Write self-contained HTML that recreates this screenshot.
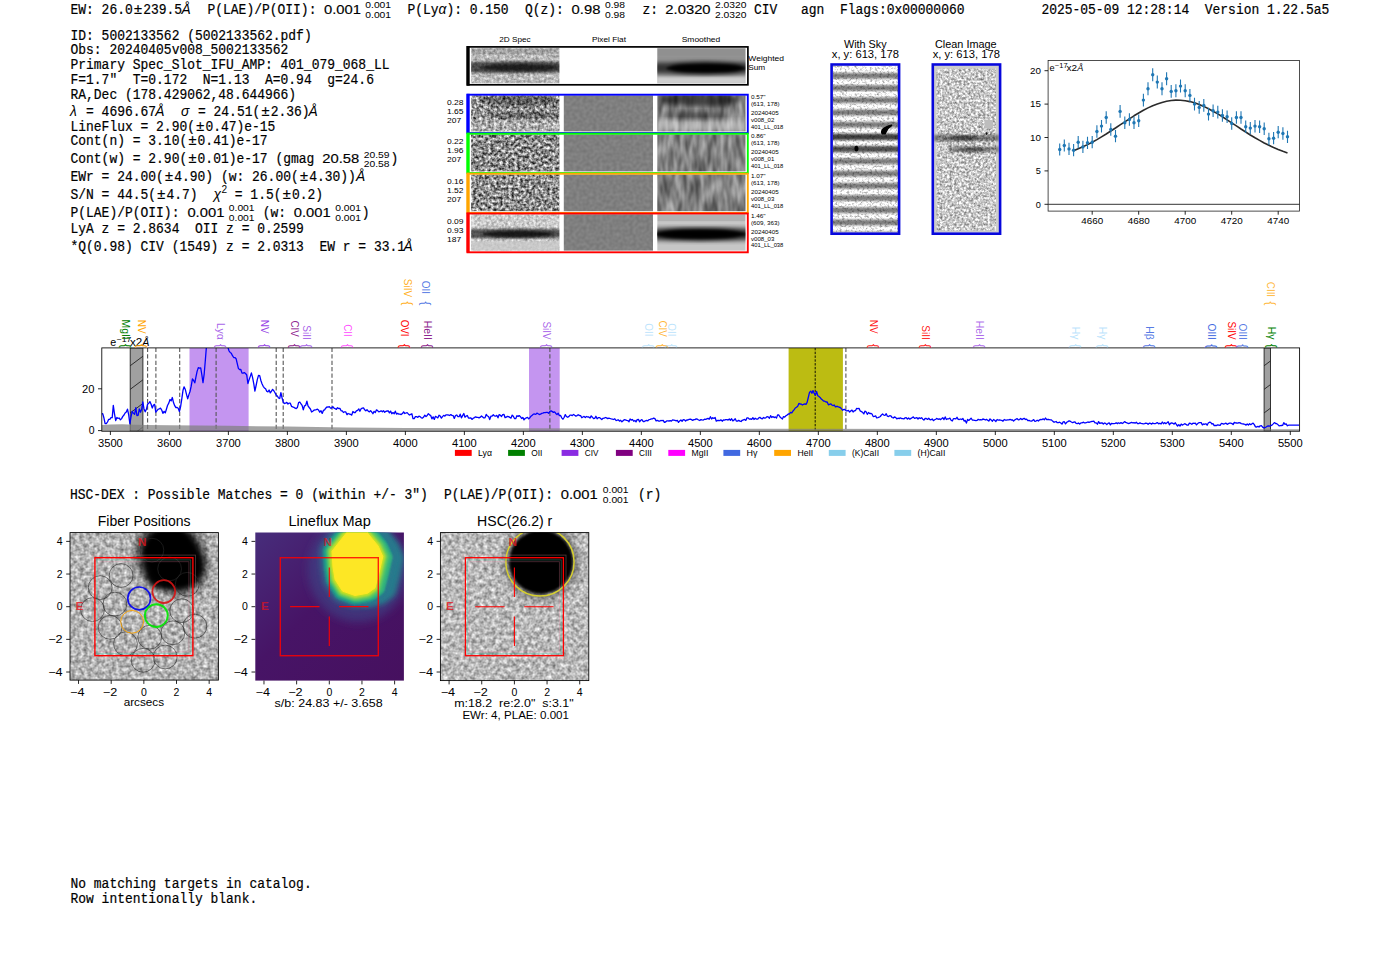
<!DOCTYPE html>
<html lang="en"><head><meta charset="utf-8"><title>ELiXer report 5002133562</title>
<style>
html,body{margin:0;padding:0;background:#fff;}
body{width:1400px;height:953px;overflow:hidden;font-family:"Liberation Sans",sans-serif;}
svg{display:block;position:absolute;left:0;top:0;}
text{font-family:"Liberation Sans",sans-serif;white-space:pre;}
text.m{font-family:"Liberation Mono",monospace;font-size:13.8px;fill:#000;stroke:#000;stroke-width:0.2px;}
</style></head><body>
<svg width="1400" height="953" viewBox="0 0 1400 953">

<g id="header">
<text x="70.50" y="13.90" class="m" textLength="62.24" lengthAdjust="spacingAndGlyphs">EW: 26.0</text>
<text x="137.94" y="13.90" font-size="14.6" text-anchor="middle" stroke="#000" stroke-width="0.2">±</text>
<text x="143.14" y="13.90" class="m" textLength="38.90" lengthAdjust="spacingAndGlyphs">239.5</text>
<text x="181.50" y="13.90" font-size="13.80" font-style="italic">Å</text>
<text x="207.50" y="13.90" class="m" textLength="116.70" lengthAdjust="spacingAndGlyphs">P(LAE)/P(OII): </text>
<text x="361.00" y="13.90" font-size="13.6" text-anchor="end" textLength="36.99" lengthAdjust="spacingAndGlyphs" stroke="#000" stroke-width="0.15">0.001</text>
<text x="365.30" y="8.30" font-size="9.63" text-anchor="start" fill="#000" textLength="25.77" lengthAdjust="spacingAndGlyphs">0.001</text>
<text x="365.30" y="17.80" font-size="9.63" text-anchor="start" fill="#000" textLength="25.77" lengthAdjust="spacingAndGlyphs">0.001</text>
<text x="407.50" y="13.90" class="m" textLength="31.12" lengthAdjust="spacingAndGlyphs">P(Ly</text>
<text x="438.62" y="13.90" font-size="13.80" font-style="italic">α</text>
<text x="446.40" y="13.90" class="m" textLength="62.24" lengthAdjust="spacingAndGlyphs">): 0.150</text>
<text x="525.00" y="13.90" class="m" textLength="46.68" lengthAdjust="spacingAndGlyphs">Q(z): </text>
<text x="600.40" y="13.90" font-size="13.6" text-anchor="end" textLength="28.77" lengthAdjust="spacingAndGlyphs" stroke="#000" stroke-width="0.15">0.98</text>
<text x="605.00" y="8.30" font-size="9.63" text-anchor="start" fill="#000" textLength="20.04" lengthAdjust="spacingAndGlyphs">0.98</text>
<text x="605.00" y="17.80" font-size="9.63" text-anchor="start" fill="#000" textLength="20.04" lengthAdjust="spacingAndGlyphs">0.98</text>
<text x="642.50" y="13.90" class="m" textLength="23.34" lengthAdjust="spacingAndGlyphs">z: </text>
<text x="710.60" y="13.90" font-size="13.6" text-anchor="end" textLength="45.21" lengthAdjust="spacingAndGlyphs" stroke="#000" stroke-width="0.15">2.0320</text>
<text x="715.00" y="8.30" font-size="9.63" text-anchor="start" fill="#000" textLength="31.49" lengthAdjust="spacingAndGlyphs">2.0320</text>
<text x="715.00" y="17.80" font-size="9.63" text-anchor="start" fill="#000" textLength="31.49" lengthAdjust="spacingAndGlyphs">2.0320</text>
<text x="754.00" y="13.90" class="m" textLength="23.34" lengthAdjust="spacingAndGlyphs">CIV</text>
<text x="801.00" y="13.90" class="m" textLength="23.34" lengthAdjust="spacingAndGlyphs">agn</text>
<text x="840.00" y="13.90" class="m" textLength="124.48" lengthAdjust="spacingAndGlyphs">Flags:0x00000060</text>
<text x="1041.40" y="13.90" class="m" textLength="287.86" lengthAdjust="spacingAndGlyphs">2025-05-09 12:28:14  Version 1.22.5a5</text>
</g>
<g id="info" transform="translate(0 -0.6)">
<text x="70.50" y="40.50" class="m" textLength="241.18" lengthAdjust="spacingAndGlyphs">ID: 5002133562 (5002133562.pdf)</text>
<text x="70.50" y="55.00" class="m" textLength="217.84" lengthAdjust="spacingAndGlyphs">Obs: 20240405v008_5002133562</text>
<text x="70.50" y="69.75" class="m" textLength="318.98" lengthAdjust="spacingAndGlyphs">Primary Spec_Slot_IFU_AMP: 401_079_068_LL</text>
<text x="70.50" y="84.50" class="m" textLength="303.42" lengthAdjust="spacingAndGlyphs">F=1.7"  T=0.172  N=1.13  A=0.94  g=24.6</text>
<text x="70.50" y="99.25" class="m" textLength="225.62" lengthAdjust="spacingAndGlyphs">RA,Dec (178.429062,48.644966)</text>
<text x="70.00" y="116.25" font-size="13.80" font-style="italic">λ</text>
<text x="86.06" y="116.25" class="m" textLength="70.02" lengthAdjust="spacingAndGlyphs">= 4696.67</text>
<text x="155.20" y="116.25" font-size="13.80" font-style="italic">Å</text>
<text x="181.00" y="116.25" font-size="13.80" font-style="italic">σ</text>
<text x="198.00" y="116.25" class="m" textLength="62.24" lengthAdjust="spacingAndGlyphs">= 24.51(</text>
<text x="265.44" y="116.25" font-size="14.6" text-anchor="middle" stroke="#000" stroke-width="0.2">±</text>
<text x="270.64" y="116.25" class="m" textLength="38.90" lengthAdjust="spacingAndGlyphs">2.36)</text>
<text x="308.50" y="116.25" font-size="13.80" font-style="italic">Å</text>
<text x="70.50" y="131.25" class="m" textLength="124.48" lengthAdjust="spacingAndGlyphs">LineFlux = 2.90(</text>
<text x="200.18" y="131.25" font-size="14.6" text-anchor="middle" stroke="#000" stroke-width="0.2">±</text>
<text x="205.38" y="131.25" class="m" textLength="70.02" lengthAdjust="spacingAndGlyphs">0.47)e-15</text>
<text x="70.50" y="145.75" class="m" textLength="116.70" lengthAdjust="spacingAndGlyphs">Cont(n) = 3.10(</text>
<text x="192.40" y="145.75" font-size="14.6" text-anchor="middle" stroke="#000" stroke-width="0.2">±</text>
<text x="197.60" y="145.75" class="m" textLength="70.02" lengthAdjust="spacingAndGlyphs">0.41)e-17</text>
<text x="70.50" y="163.75" class="m" textLength="116.70" lengthAdjust="spacingAndGlyphs">Cont(w) = 2.90(</text>
<text x="192.40" y="163.75" font-size="14.6" text-anchor="middle" stroke="#000" stroke-width="0.2">±</text>
<text x="197.60" y="163.75" class="m" textLength="124.48" lengthAdjust="spacingAndGlyphs">0.01)e-17 (gmag </text>
<text x="359.20" y="163.75" font-size="13.6" text-anchor="end" textLength="36.99" lengthAdjust="spacingAndGlyphs" stroke="#000" stroke-width="0.15">20.58</text>
<text x="363.80" y="158.15" font-size="9.63" text-anchor="start" fill="#000" textLength="25.77" lengthAdjust="spacingAndGlyphs">20.59</text>
<text x="363.80" y="167.65" font-size="9.63" text-anchor="start" fill="#000" textLength="25.77" lengthAdjust="spacingAndGlyphs">20.58</text>
<text x="390.60" y="163.75" class="m" textLength="7.78" lengthAdjust="spacingAndGlyphs">)</text>
<text x="70.50" y="182.00" class="m" textLength="93.36" lengthAdjust="spacingAndGlyphs">EWr = 24.00(</text>
<text x="169.06" y="182.00" font-size="14.6" text-anchor="middle" stroke="#000" stroke-width="0.2">±</text>
<text x="174.26" y="182.00" class="m" textLength="124.48" lengthAdjust="spacingAndGlyphs">4.90) (w: 26.00(</text>
<text x="303.94" y="182.00" font-size="14.6" text-anchor="middle" stroke="#000" stroke-width="0.2">±</text>
<text x="309.14" y="182.00" class="m" textLength="46.68" lengthAdjust="spacingAndGlyphs">4.30))</text>
<text x="356.00" y="182.00" font-size="13.80" font-style="italic">Å</text>
<text x="70.50" y="199.25" class="m" textLength="85.58" lengthAdjust="spacingAndGlyphs">S/N = 44.5(</text>
<text x="161.28" y="199.25" font-size="14.6" text-anchor="middle" stroke="#000" stroke-width="0.2">±</text>
<text x="166.48" y="199.25" class="m" textLength="31.12" lengthAdjust="spacingAndGlyphs">4.7)</text>
<text x="213.50" y="199.25" font-size="13.80" font-style="italic">χ</text>
<text x="221.40" y="193.65" font-size="10.06" text-anchor="start" fill="#000">2</text>
<text x="234.80" y="199.25" class="m" textLength="46.68" lengthAdjust="spacingAndGlyphs">= 1.5(</text>
<text x="286.68" y="199.25" font-size="14.6" text-anchor="middle" stroke="#000" stroke-width="0.2">±</text>
<text x="291.88" y="199.25" class="m" textLength="31.12" lengthAdjust="spacingAndGlyphs">0.2)</text>
<text x="70.50" y="217.50" class="m" textLength="116.70" lengthAdjust="spacingAndGlyphs">P(LAE)/P(OII): </text>
<text x="224.40" y="217.50" font-size="13.6" text-anchor="end" textLength="36.99" lengthAdjust="spacingAndGlyphs" stroke="#000" stroke-width="0.15">0.001</text>
<text x="228.80" y="211.90" font-size="9.63" text-anchor="start" fill="#000" textLength="25.77" lengthAdjust="spacingAndGlyphs">0.001</text>
<text x="228.80" y="221.40" font-size="9.63" text-anchor="start" fill="#000" textLength="25.77" lengthAdjust="spacingAndGlyphs">0.001</text>
<text x="262.80" y="217.50" class="m" textLength="31.12" lengthAdjust="spacingAndGlyphs">(w: </text>
<text x="330.80" y="217.50" font-size="13.6" text-anchor="end" textLength="36.99" lengthAdjust="spacingAndGlyphs" stroke="#000" stroke-width="0.15">0.001</text>
<text x="335.20" y="211.90" font-size="9.63" text-anchor="start" fill="#000" textLength="25.77" lengthAdjust="spacingAndGlyphs">0.001</text>
<text x="335.20" y="221.40" font-size="9.63" text-anchor="start" fill="#000" textLength="25.77" lengthAdjust="spacingAndGlyphs">0.001</text>
<text x="361.80" y="217.50" class="m" textLength="7.78" lengthAdjust="spacingAndGlyphs">)</text>
<text x="70.50" y="233.75" class="m" textLength="233.40" lengthAdjust="spacingAndGlyphs">LyA z = 2.8634  OII z = 0.2599</text>
<text x="70.50" y="251.25" class="m" textLength="334.54" lengthAdjust="spacingAndGlyphs">*Q(0.98) CIV (1549) z = 2.0313  EW r = 33.1</text>
<text x="403.50" y="251.25" font-size="13.80" font-style="italic">Å</text>
</g>
<g id="catalog-text">
<text x="70.00" y="499.00" class="m" textLength="357.88" lengthAdjust="spacingAndGlyphs">HSC-DEX : Possible Matches = 0 (within +/- 3")</text>
<text x="444.00" y="499.00" class="m" textLength="116.70" lengthAdjust="spacingAndGlyphs">P(LAE)/P(OII): </text>
<text x="597.80" y="499.00" font-size="13.6" text-anchor="end" textLength="36.99" lengthAdjust="spacingAndGlyphs" stroke="#000" stroke-width="0.15">0.001</text>
<text x="602.80" y="493.40" font-size="9.63" text-anchor="start" fill="#000" textLength="25.77" lengthAdjust="spacingAndGlyphs">0.001</text>
<text x="602.80" y="502.90" font-size="9.63" text-anchor="start" fill="#000" textLength="25.77" lengthAdjust="spacingAndGlyphs">0.001</text>
<text x="638.00" y="499.00" class="m" textLength="23.34" lengthAdjust="spacingAndGlyphs">(r)</text>
<text x="70.50" y="887.90" class="m" textLength="241.18" lengthAdjust="spacingAndGlyphs">No matching targets in catalog.</text>
<text x="70.50" y="902.90" class="m" textLength="186.72" lengthAdjust="spacingAndGlyphs">Row intentionally blank.</text>
</g>
<defs>
<filter id="nzA" x="0" y="0" width="100%" height="100%" color-interpolation-filters="sRGB"><feTurbulence type="fractalNoise" baseFrequency="0.34" numOctaves="2" seed="3" stitchTiles="noStitch"/><feColorMatrix type="matrix" values="1 0 0 0 0 1 0 0 0 0 1 0 0 0 0 0 0 0 0 1"/><feComponentTransfer><feFuncR type="linear" slope="1.45" intercept="-0.155"/><feFuncG type="linear" slope="1.45" intercept="-0.155"/><feFuncB type="linear" slope="1.45" intercept="-0.155"/></feComponentTransfer><feComposite operator="in" in2="SourceGraphic"/></filter>
<filter id="nzB" x="0" y="0" width="100%" height="100%" color-interpolation-filters="sRGB"><feTurbulence type="fractalNoise" baseFrequency="0.34" numOctaves="2" seed="11" stitchTiles="noStitch"/><feColorMatrix type="matrix" values="1 0 0 0 0 1 0 0 0 0 1 0 0 0 0 0 0 0 0 1"/><feComponentTransfer><feFuncR type="linear" slope="1.45" intercept="-0.175"/><feFuncG type="linear" slope="1.45" intercept="-0.175"/><feFuncB type="linear" slope="1.45" intercept="-0.175"/></feComponentTransfer><feComposite operator="in" in2="SourceGraphic"/></filter>
<filter id="nzC" x="0" y="0" width="100%" height="100%" color-interpolation-filters="sRGB"><feTurbulence type="fractalNoise" baseFrequency="0.34" numOctaves="2" seed="23" stitchTiles="noStitch"/><feColorMatrix type="matrix" values="1 0 0 0 0 1 0 0 0 0 1 0 0 0 0 0 0 0 0 1"/><feComponentTransfer><feFuncR type="linear" slope="1.45" intercept="-0.165"/><feFuncG type="linear" slope="1.45" intercept="-0.165"/><feFuncB type="linear" slope="1.45" intercept="-0.165"/></feComponentTransfer><feComposite operator="in" in2="SourceGraphic"/></filter>
<filter id="nzL" x="0" y="0" width="100%" height="100%" color-interpolation-filters="sRGB"><feTurbulence type="fractalNoise" baseFrequency="0.36" numOctaves="2" seed="5" stitchTiles="noStitch"/><feColorMatrix type="matrix" values="1 0 0 0 0 1 0 0 0 0 1 0 0 0 0 0 0 0 0 1"/><feComponentTransfer><feFuncR type="linear" slope="0.6" intercept="0.43"/><feFuncG type="linear" slope="0.6" intercept="0.43"/><feFuncB type="linear" slope="0.6" intercept="0.43"/></feComponentTransfer><feComposite operator="in" in2="SourceGraphic"/></filter>
<filter id="nzL2" x="0" y="0" width="100%" height="100%" color-interpolation-filters="sRGB"><feTurbulence type="fractalNoise" baseFrequency="0.36" numOctaves="2" seed="8" stitchTiles="noStitch"/><feColorMatrix type="matrix" values="1 0 0 0 0 1 0 0 0 0 1 0 0 0 0 0 0 0 0 1"/><feComponentTransfer><feFuncR type="linear" slope="0.55" intercept="0.52"/><feFuncG type="linear" slope="0.55" intercept="0.52"/><feFuncB type="linear" slope="0.55" intercept="0.52"/></feComponentTransfer><feComposite operator="in" in2="SourceGraphic"/></filter>
<filter id="nzS1" x="0" y="0" width="100%" height="100%" color-interpolation-filters="sRGB"><feTurbulence type="fractalNoise" baseFrequency="0.16 0.045" numOctaves="2" seed="4" stitchTiles="noStitch"/><feColorMatrix type="matrix" values="1 0 0 0 0 1 0 0 0 0 1 0 0 0 0 0 0 0 0 1"/><feComponentTransfer><feFuncR type="linear" slope="0.62" intercept="0.2"/><feFuncG type="linear" slope="0.62" intercept="0.2"/><feFuncB type="linear" slope="0.62" intercept="0.2"/></feComponentTransfer><feComposite operator="in" in2="SourceGraphic"/></filter>
<filter id="nzS2" x="0" y="0" width="100%" height="100%" color-interpolation-filters="sRGB"><feTurbulence type="fractalNoise" baseFrequency="0.16 0.045" numOctaves="2" seed="9" stitchTiles="noStitch"/><feColorMatrix type="matrix" values="1 0 0 0 0 1 0 0 0 0 1 0 0 0 0 0 0 0 0 1"/><feComponentTransfer><feFuncR type="linear" slope="0.62" intercept="0.2"/><feFuncG type="linear" slope="0.62" intercept="0.2"/><feFuncB type="linear" slope="0.62" intercept="0.2"/></feComponentTransfer><feComposite operator="in" in2="SourceGraphic"/></filter>
<filter id="nzS3" x="0" y="0" width="100%" height="100%" color-interpolation-filters="sRGB"><feTurbulence type="fractalNoise" baseFrequency="0.16 0.045" numOctaves="2" seed="15" stitchTiles="noStitch"/><feColorMatrix type="matrix" values="1 0 0 0 0 1 0 0 0 0 1 0 0 0 0 0 0 0 0 1"/><feComponentTransfer><feFuncR type="linear" slope="0.62" intercept="0.2"/><feFuncG type="linear" slope="0.62" intercept="0.2"/><feFuncB type="linear" slope="0.62" intercept="0.2"/></feComponentTransfer><feComposite operator="in" in2="SourceGraphic"/></filter>
<filter id="nzF" x="0" y="0" width="100%" height="100%" color-interpolation-filters="sRGB"><feTurbulence type="fractalNoise" baseFrequency="0.3" numOctaves="1" seed="2" stitchTiles="noStitch"/><feColorMatrix type="matrix" values="1 0 0 0 0 1 0 0 0 0 1 0 0 0 0 0 0 0 0 1"/><feComponentTransfer><feFuncR type="linear" slope="0.12" intercept="0.44"/><feFuncG type="linear" slope="0.12" intercept="0.44"/><feFuncB type="linear" slope="0.12" intercept="0.44"/></feComponentTransfer><feComposite operator="in" in2="SourceGraphic"/></filter>
<filter id="nzK" x="0" y="0" width="100%" height="100%" color-interpolation-filters="sRGB"><feTurbulence type="fractalNoise" baseFrequency="0.42" numOctaves="2" seed="31" stitchTiles="noStitch"/><feColorMatrix type="matrix" values="1 0 0 0 0 1 0 0 0 0 1 0 0 0 0 0 0 0 0 1"/><feComponentTransfer><feFuncR type="linear" slope="1.0" intercept="0.285"/><feFuncG type="linear" slope="1.0" intercept="0.285"/><feFuncB type="linear" slope="1.0" intercept="0.285"/></feComponentTransfer><feComposite operator="in" in2="SourceGraphic"/></filter>
<filter id="nzSky" x="0" y="0" width="100%" height="100%" color-interpolation-filters="sRGB"><feTurbulence type="fractalNoise" baseFrequency="0.4 0.5" numOctaves="2" seed="37" stitchTiles="noStitch"/><feColorMatrix type="matrix" values="1 0 0 0 0 1 0 0 0 0 1 0 0 0 0 0 0 0 0 1"/><feComponentTransfer><feFuncR type="linear" slope="1.1" intercept="0.42"/><feFuncG type="linear" slope="1.1" intercept="0.42"/><feFuncB type="linear" slope="1.1" intercept="0.42"/></feComponentTransfer><feComposite operator="in" in2="SourceGraphic"/></filter>
<filter id="nzI1" x="0" y="0" width="100%" height="100%" color-interpolation-filters="sRGB"><feTurbulence type="fractalNoise" baseFrequency="0.25" numOctaves="2" seed="41" stitchTiles="noStitch"/><feColorMatrix type="matrix" values="1 0 0 0 0 1 0 0 0 0 1 0 0 0 0 0 0 0 0 1"/><feComponentTransfer><feFuncR type="linear" slope="0.72" intercept="0.345"/><feFuncG type="linear" slope="0.72" intercept="0.345"/><feFuncB type="linear" slope="0.72" intercept="0.345"/></feComponentTransfer><feComposite operator="in" in2="SourceGraphic"/></filter>
<filter id="nzI2" x="0" y="0" width="100%" height="100%" color-interpolation-filters="sRGB"><feTurbulence type="fractalNoise" baseFrequency="0.25" numOctaves="2" seed="47" stitchTiles="noStitch"/><feColorMatrix type="matrix" values="1 0 0 0 0 1 0 0 0 0 1 0 0 0 0 0 0 0 0 1"/><feComponentTransfer><feFuncR type="linear" slope="0.72" intercept="0.365"/><feFuncG type="linear" slope="0.72" intercept="0.365"/><feFuncB type="linear" slope="0.72" intercept="0.365"/></feComponentTransfer><feComposite operator="in" in2="SourceGraphic"/></filter>
<filter id="blur1" x="-20%" y="-20%" width="140%" height="140%"><feGaussianBlur stdDeviation="1.2"/></filter>
<filter id="blur2" x="-30%" y="-30%" width="160%" height="160%"><feGaussianBlur stdDeviation="2.5"/></filter>
<filter id="blur4" x="-30%" y="-30%" width="160%" height="160%"><feGaussianBlur stdDeviation="4.5"/></filter>
</defs>
<g id="spec2d">
<text x="515.00" y="41.90" font-size="8.08" text-anchor="middle" fill="#000" textLength="31.40" lengthAdjust="spacingAndGlyphs">2D Spec</text>
<text x="609.00" y="41.90" font-size="8.08" text-anchor="middle" fill="#000" textLength="33.89" lengthAdjust="spacingAndGlyphs">Pixel Flat</text>
<text x="701.00" y="41.90" font-size="8.08" text-anchor="middle" fill="#000" textLength="38.57" lengthAdjust="spacingAndGlyphs">Smoothed</text>
<clipPath id="cA0"><rect x="471.2" y="48.2" width="88.2" height="35.1"/></clipPath>
<clipPath id="cC0"><rect x="657.3" y="48.2" width="88.2" height="35.1"/></clipPath>
<rect x="471.2" y="48.2" width="88.2" height="35.1" fill="#ccc" filter="url(#nzL)"/>
<g clip-path="url(#cA0)">
<ellipse cx="515.3" cy="67.3" rx="90.0" ry="6.0" fill="#000" fill-opacity="0.6" filter="url(#blur1)"/>
<ellipse cx="520.0" cy="67.5" rx="40.0" ry="3.4" fill="#000" fill-opacity="0.6" filter="url(#blur1)"/>
<rect x="471.2" y="48.2" width="88.2" height="6" fill="#000" fill-opacity="0.12"/>
</g>
<rect x="657.3" y="48.2" width="88.2" height="35.1" fill="#b4b4b4"/>
<g clip-path="url(#cC0)">
<rect x="652.3" y="44.2" width="98.2" height="16" fill="#000" fill-opacity="0.2" filter="url(#blur2)"/>
<ellipse cx="701.4" cy="68.0" rx="110.0" ry="6.4" fill="#000" fill-opacity="0.72" filter="url(#blur2)"/>
<ellipse cx="706.0" cy="68.2" rx="36.0" ry="5.2" fill="#000" fill-opacity="0.9" filter="url(#blur2)"/>
<ellipse cx="706.0" cy="68.2" rx="40.0" ry="3.4" fill="#000" fill-opacity="0.9" filter="url(#blur1)"/>
<rect x="657.3" y="77" width="88.2" height="7" fill="#fff" fill-opacity="0.35" filter="url(#blur1)"/>
</g>
<rect x="467.4" y="46.9" width="280.5" height="37.9" fill="none" stroke="#000" stroke-width="1.7"/>
<rect x="466.5" y="46.0" width="3.2" height="39.7" fill="#000"/>
<text x="748.30" y="61.00" font-size="8.08" text-anchor="start" fill="#000" textLength="35.74" lengthAdjust="spacingAndGlyphs">Weighted</text>
<text x="748.30" y="70.00" font-size="8.08" text-anchor="start" fill="#000" textLength="16.93" lengthAdjust="spacingAndGlyphs">Sum</text>
<clipPath id="cA1"><rect x="471.2" y="95.4" width="88.2" height="36.0"/></clipPath>
<clipPath id="cC1"><rect x="657.3" y="95.4" width="88.2" height="36.0"/></clipPath>
<rect x="471.2" y="95.4" width="88.2" height="36.0" fill="#aaa" filter="url(#nzA)"/>
<rect x="563.8" y="95.4" width="89.2" height="36.0" fill="#808080" filter="url(#nzF)"/>
<rect x="657.3" y="95.4" width="88.2" height="36.0" fill="#888" filter="url(#nzS1)"/>
<g clip-path="url(#cA1)">
<ellipse cx="520.0" cy="100.4" rx="40.0" ry="5.0" fill="#000" fill-opacity="0.35" filter="url(#blur1)"/>
<ellipse cx="525.0" cy="115.4" rx="36.0" ry="3.5" fill="#000" fill-opacity="0.3" filter="url(#blur1)"/>
<rect x="471.2" y="119.4" width="88.2" height="12" fill="#fff" fill-opacity="0.25"/>
</g>
<g clip-path="url(#cC1)">
<ellipse cx="700.0" cy="99.4" rx="40.0" ry="7.0" fill="#000" fill-opacity="0.6" filter="url(#blur2)"/>
<ellipse cx="695.0" cy="115.4" rx="34.0" ry="4.0" fill="#000" fill-opacity="0.35" filter="url(#blur2)"/>
<rect x="657.3" y="120.4" width="88.2" height="11" fill="#fff" fill-opacity="0.4" filter="url(#blur2)"/>
</g>
<text x="447.00" y="105.30" font-size="7.92" text-anchor="start" fill="#000" textLength="16.48" lengthAdjust="spacingAndGlyphs">0.28</text>
<text x="447.00" y="114.40" font-size="7.92" text-anchor="start" fill="#000" textLength="16.48" lengthAdjust="spacingAndGlyphs">1.65</text>
<text x="447.00" y="123.40" font-size="7.92" text-anchor="start" fill="#000" textLength="14.12" lengthAdjust="spacingAndGlyphs">207</text>
<text x="751.00" y="99.00" font-size="5.83" text-anchor="start" fill="#000" textLength="14.64" lengthAdjust="spacingAndGlyphs">0.57"</text>
<text x="751.00" y="106.20" font-size="5.83" text-anchor="start" fill="#000" textLength="28.52" lengthAdjust="spacingAndGlyphs">(613, 178)</text>
<text x="751.00" y="115.30" font-size="5.83" text-anchor="start" fill="#000" textLength="27.74" lengthAdjust="spacingAndGlyphs">20240405</text>
<text x="751.00" y="121.70" font-size="5.83" text-anchor="start" fill="#000" textLength="23.29" lengthAdjust="spacingAndGlyphs">v008_02</text>
<text x="751.00" y="128.60" font-size="5.83" text-anchor="start" fill="#000" textLength="32.33" lengthAdjust="spacingAndGlyphs">401_LL_018</text>
<clipPath id="cA2"><rect x="471.2" y="134.4" width="88.2" height="37.0"/></clipPath>
<clipPath id="cC2"><rect x="657.3" y="134.4" width="88.2" height="37.0"/></clipPath>
<rect x="471.2" y="134.4" width="88.2" height="37.0" fill="#aaa" filter="url(#nzB)"/>
<rect x="563.8" y="134.4" width="89.2" height="37.0" fill="#808080" filter="url(#nzF)"/>
<rect x="657.3" y="134.4" width="88.2" height="37.0" fill="#888" filter="url(#nzS2)"/>
<text x="447.00" y="144.30" font-size="7.92" text-anchor="start" fill="#000" textLength="16.48" lengthAdjust="spacingAndGlyphs">0.22</text>
<text x="447.00" y="153.40" font-size="7.92" text-anchor="start" fill="#000" textLength="16.48" lengthAdjust="spacingAndGlyphs">1.96</text>
<text x="447.00" y="162.40" font-size="7.92" text-anchor="start" fill="#000" textLength="14.12" lengthAdjust="spacingAndGlyphs">207</text>
<text x="751.00" y="138.00" font-size="5.83" text-anchor="start" fill="#000" textLength="14.64" lengthAdjust="spacingAndGlyphs">0.86"</text>
<text x="751.00" y="145.20" font-size="5.83" text-anchor="start" fill="#000" textLength="28.52" lengthAdjust="spacingAndGlyphs">(613, 178)</text>
<text x="751.00" y="154.30" font-size="5.83" text-anchor="start" fill="#000" textLength="27.74" lengthAdjust="spacingAndGlyphs">20240405</text>
<text x="751.00" y="160.70" font-size="5.83" text-anchor="start" fill="#000" textLength="23.29" lengthAdjust="spacingAndGlyphs">v008_01</text>
<text x="751.00" y="167.60" font-size="5.83" text-anchor="start" fill="#000" textLength="32.33" lengthAdjust="spacingAndGlyphs">401_LL_018</text>
<clipPath id="cA3"><rect x="471.2" y="174.4" width="88.2" height="36.8"/></clipPath>
<clipPath id="cC3"><rect x="657.3" y="174.4" width="88.2" height="36.8"/></clipPath>
<rect x="471.2" y="174.4" width="88.2" height="36.8" fill="#aaa" filter="url(#nzC)"/>
<rect x="563.8" y="174.4" width="89.2" height="36.8" fill="#808080" filter="url(#nzF)"/>
<rect x="657.3" y="174.4" width="88.2" height="36.8" fill="#888" filter="url(#nzS3)"/>
<text x="447.00" y="184.30" font-size="7.92" text-anchor="start" fill="#000" textLength="16.48" lengthAdjust="spacingAndGlyphs">0.16</text>
<text x="447.00" y="193.40" font-size="7.92" text-anchor="start" fill="#000" textLength="16.48" lengthAdjust="spacingAndGlyphs">1.52</text>
<text x="447.00" y="202.40" font-size="7.92" text-anchor="start" fill="#000" textLength="14.12" lengthAdjust="spacingAndGlyphs">207</text>
<text x="751.00" y="178.00" font-size="5.83" text-anchor="start" fill="#000" textLength="14.64" lengthAdjust="spacingAndGlyphs">1.07"</text>
<text x="751.00" y="185.20" font-size="5.83" text-anchor="start" fill="#000" textLength="28.52" lengthAdjust="spacingAndGlyphs">(613, 178)</text>
<text x="751.00" y="194.30" font-size="5.83" text-anchor="start" fill="#000" textLength="27.74" lengthAdjust="spacingAndGlyphs">20240405</text>
<text x="751.00" y="200.70" font-size="5.83" text-anchor="start" fill="#000" textLength="23.29" lengthAdjust="spacingAndGlyphs">v008_03</text>
<text x="751.00" y="207.60" font-size="5.83" text-anchor="start" fill="#000" textLength="32.33" lengthAdjust="spacingAndGlyphs">401_LL_018</text>
<clipPath id="cA4"><rect x="471.2" y="214.2" width="88.2" height="36.4"/></clipPath>
<clipPath id="cC4"><rect x="657.3" y="214.2" width="88.2" height="36.4"/></clipPath>
<rect x="471.2" y="214.2" width="88.2" height="36.4" fill="#aaa" filter="url(#nzL2)"/>
<rect x="563.8" y="214.2" width="89.2" height="36.4" fill="#808080" filter="url(#nzF)"/>
<rect x="657.3" y="214.2" width="88.2" height="36.4" fill="#c6c6c6"/>
<g clip-path="url(#cA4)">
<ellipse cx="515.3" cy="233.6" rx="90.0" ry="5.0" fill="#000" fill-opacity="0.6" filter="url(#blur1)"/>
<ellipse cx="518.0" cy="234.0" rx="36.0" ry="3.2" fill="#000" fill-opacity="0.7" filter="url(#blur1)"/>
<rect x="471.2" y="241.5" width="88.2" height="10" fill="#c8c8c8" fill-opacity="0.75"/>
</g>
<g clip-path="url(#cC4)">
<rect x="657.3" y="214.2" width="88.2" height="7" fill="#000" fill-opacity="0.1"/>
<ellipse cx="701.4" cy="234.2" rx="110.0" ry="6.2" fill="#000" fill-opacity="0.8" filter="url(#blur2)"/>
<ellipse cx="700.0" cy="234.2" rx="40.0" ry="5.0" fill="#000" fill-opacity="0.9" filter="url(#blur2)"/>
<ellipse cx="700.0" cy="234.2" rx="46.0" ry="3.6" fill="#000" fill-opacity="0.95" filter="url(#blur1)"/>
</g>
<text x="447.00" y="224.10" font-size="7.92" text-anchor="start" fill="#000" textLength="16.48" lengthAdjust="spacingAndGlyphs">0.09</text>
<text x="447.00" y="233.20" font-size="7.92" text-anchor="start" fill="#000" textLength="16.48" lengthAdjust="spacingAndGlyphs">0.93</text>
<text x="447.00" y="242.20" font-size="7.92" text-anchor="start" fill="#000" textLength="14.12" lengthAdjust="spacingAndGlyphs">187</text>
<text x="751.00" y="217.80" font-size="5.83" text-anchor="start" fill="#000" textLength="14.64" lengthAdjust="spacingAndGlyphs">1.46"</text>
<text x="751.00" y="225.00" font-size="5.83" text-anchor="start" fill="#000" textLength="28.52" lengthAdjust="spacingAndGlyphs">(609, 363)</text>
<text x="751.00" y="234.10" font-size="5.83" text-anchor="start" fill="#000" textLength="27.74" lengthAdjust="spacingAndGlyphs">20240405</text>
<text x="751.00" y="240.50" font-size="5.83" text-anchor="start" fill="#000" textLength="23.29" lengthAdjust="spacingAndGlyphs">v008_03</text>
<text x="751.00" y="247.40" font-size="5.83" text-anchor="start" fill="#000" textLength="32.33" lengthAdjust="spacingAndGlyphs">401_LL_038</text>
<rect x="467.5" y="94.7" width="280.3" height="38.4" fill="none" stroke="#0000ff" stroke-width="1.9"/>
<rect x="466.5" y="93.8" width="3.2" height="39.6" fill="#0000ff"/>
<rect x="467.5" y="133.7" width="280.3" height="39.4" fill="none" stroke="#00ff00" stroke-width="1.9"/>
<rect x="466.5" y="132.8" width="3.2" height="40.6" fill="#00ff00"/>
<rect x="467.5" y="173.7" width="280.3" height="39.2" fill="none" stroke="#ffa500" stroke-width="1.9"/>
<rect x="466.5" y="172.8" width="3.2" height="40.4" fill="#ffa500"/>
<rect x="467.5" y="213.5" width="280.3" height="38.8" fill="none" stroke="#ff0000" stroke-width="1.9"/>
<rect x="466.5" y="212.6" width="3.2" height="40.0" fill="#ff0000"/>
</g>
<g id="cutouts">
<text x="865.30" y="47.60" font-size="10.49" text-anchor="middle" fill="#000" textLength="42.71" lengthAdjust="spacingAndGlyphs">With Sky</text>
<text x="865.40" y="58.20" font-size="10.49" text-anchor="middle" fill="#000" textLength="67.18" lengthAdjust="spacingAndGlyphs">x, y: 613, 178</text>
<text x="965.80" y="47.60" font-size="10.49" text-anchor="middle" fill="#000" textLength="61.62" lengthAdjust="spacingAndGlyphs">Clean Image</text>
<text x="966.30" y="58.20" font-size="10.49" text-anchor="middle" fill="#000" textLength="67.18" lengthAdjust="spacingAndGlyphs">x, y: 613, 178</text>
<clipPath id="cSky"><rect x="833.0" y="65.6" width="65.0" height="167.0"/></clipPath>
<rect x="833.0" y="65.6" width="65.0" height="167.0" fill="#fdfdfd"/>
<g clip-path="url(#cSky)">
<rect x="829.0" y="73.0" width="73.0" height="5.6" fill="#000" fill-opacity="0.5" filter="url(#blur1)"/>
<rect x="829.0" y="85.2" width="73.0" height="5.6" fill="#000" fill-opacity="0.5" filter="url(#blur1)"/>
<rect x="829.0" y="97.4" width="73.0" height="5.6" fill="#000" fill-opacity="0.5" filter="url(#blur1)"/>
<rect x="829.0" y="109.7" width="73.0" height="5.6" fill="#000" fill-opacity="0.5" filter="url(#blur1)"/>
<rect x="829.0" y="121.9" width="73.0" height="5.6" fill="#000" fill-opacity="0.5" filter="url(#blur1)"/>
<rect x="829.0" y="133.7" width="73.0" height="6.4" fill="#000" fill-opacity="0.74" filter="url(#blur1)"/>
<rect x="829.0" y="146.0" width="73.0" height="6.2" fill="#000" fill-opacity="0.68" filter="url(#blur1)"/>
<rect x="829.0" y="158.5" width="73.0" height="5.6" fill="#000" fill-opacity="0.5" filter="url(#blur1)"/>
<rect x="829.0" y="170.8" width="73.0" height="5.6" fill="#000" fill-opacity="0.5" filter="url(#blur1)"/>
<rect x="829.0" y="183.0" width="73.0" height="5.6" fill="#000" fill-opacity="0.5" filter="url(#blur1)"/>
<rect x="829.0" y="195.2" width="73.0" height="5.6" fill="#000" fill-opacity="0.5" filter="url(#blur1)"/>
<rect x="829.0" y="207.4" width="73.0" height="5.6" fill="#000" fill-opacity="0.5" filter="url(#blur1)"/>
<rect x="829.0" y="219.6" width="73.0" height="5.6" fill="#000" fill-opacity="0.5" filter="url(#blur1)"/>
<rect x="829.0" y="231.9" width="73.0" height="5.6" fill="#000" fill-opacity="0.5" filter="url(#blur1)"/>
<rect x="833.0" y="65.6" width="65.0" height="167.0" fill="#888" filter="url(#nzSky)" style="mix-blend-mode:multiply"/>
<path d="M882.2 133.8 C880.6 130.2 883.6 127.0 891.6 125.2 C887.0 128.0 886.6 130.8 885.2 133.6 Z" fill="#000" stroke="#000" stroke-width="1.6" stroke-linejoin="round"/>
<ellipse cx="856.4" cy="148.6" rx="2.0" ry="2.9" fill="#000"/>
</g>
<rect x="831.6" y="64.5" width="67.5" height="169.2" fill="none" stroke="#0808dc" stroke-width="2.6"/>
<clipPath id="cCln"><rect x="934.0" y="65.6" width="65.0" height="167.0"/></clipPath>
<rect x="934.0" y="65.6" width="65.0" height="167.0" fill="#ccc"/>
<rect x="936.5" y="68.6" width="59.5" height="162.0" fill="#ccc" filter="url(#nzK)"/>
<g clip-path="url(#cCln)">
<rect x="934.0" y="134.8" width="65.0" height="6.2" fill="#000" fill-opacity="0.42" filter="url(#blur1)"/>
<ellipse cx="963" cy="138.0" rx="14" ry="2.6" fill="#000" fill-opacity="0.45" filter="url(#blur1)"/>
<rect x="948.0" y="146.6" width="51.0" height="5.6" fill="#000" fill-opacity="0.34" filter="url(#blur1)"/>
<ellipse cx="972" cy="149.6" rx="14" ry="2.4" fill="#000" fill-opacity="0.4" filter="url(#blur1)"/>
<rect x="984.4" y="120.0" width="8.6" height="8.4" fill="#bdbdbd"/>
<ellipse cx="986.6" cy="133.6" rx="1.0" ry="1.4" fill="#111"/>
</g>
<rect x="932.8" y="64.5" width="67.3" height="169.2" fill="none" stroke="#0808dc" stroke-width="2.6"/>
</g>
<g id="fitplot">
<line x1="1048.1" y1="204.30" x2="1299.6" y2="204.30" stroke="#000" stroke-width="0.8"/>
<polyline points="1073.6,150.7 1078.2,148.8 1082.9,146.8 1087.5,144.6 1092.2,142.2 1096.9,139.6 1101.5,136.9 1106.2,134.0 1110.8,131.0 1115.5,128.0 1120.1,124.9 1124.8,121.8 1129.4,118.8 1134.0,115.8 1138.7,113.0 1143.4,110.3 1148.0,107.9 1152.7,105.7 1157.3,103.9 1162.0,102.4 1166.6,101.2 1171.2,100.5 1175.9,100.1 1180.5,100.2 1185.2,100.7 1189.9,101.6 1194.5,102.8 1199.2,104.5 1203.8,106.4 1208.5,108.7 1213.1,111.2 1217.8,113.9 1222.4,116.8 1227.1,119.8 1231.7,122.8 1236.4,125.9 1241.0,129.0 1245.7,132.0 1250.3,135.0 1255.0,137.8 1259.6,140.4 1264.2,143.0 1268.9,145.3 1273.6,147.5 1278.2,149.5 1282.9,151.3 1287.5,152.9" fill="none" stroke="#2b2b2b" stroke-width="1.6" stroke-linejoin="round"/>
<path d="M1059.7 143.5V155.6M1064.3 139.4V151.6M1069.0 142.8V154.9M1073.6 144.1V156.3M1078.2 136.1V148.3M1082.9 140.8V152.9M1087.5 136.7V149.0M1092.2 136.1V148.3M1096.9 125.3V137.7M1101.5 119.9V132.4M1106.2 111.2V123.7M1110.8 123.3V135.7M1115.5 130.0V142.3M1120.1 105.1V117.7M1124.8 116.6V129.0M1129.4 113.2V125.7M1134.0 116.6V129.0M1138.7 114.6V127.0M1143.4 93.7V106.5M1148.0 82.3V95.2M1152.7 68.2V81.2M1157.3 75.6V88.5M1162.0 82.3V95.2M1166.6 72.2V85.2M1171.2 85.0V97.8M1175.9 84.3V97.2M1180.5 79.6V92.5M1185.2 84.3V97.2M1189.9 89.0V101.8M1194.5 97.8V110.4M1199.2 101.1V113.8M1203.8 99.1V111.8M1208.5 107.8V120.4M1213.1 104.5V117.1M1217.8 105.8V118.4M1222.4 109.2V121.7M1227.1 110.5V123.1M1231.7 117.2V129.7M1236.4 111.2V123.7M1241.0 111.2V123.7M1245.7 120.6V133.0M1250.3 121.9V134.3M1255.0 119.9V132.4M1259.6 120.6V133.0M1264.2 122.6V135.0M1268.9 132.7V145.0M1273.6 132.0V144.3M1278.2 126.0V138.3M1282.9 127.3V139.7M1287.5 130.7V143.0" stroke="#1f77b4" stroke-width="1.1" fill="none"/>
<g fill="#1f77b4"><circle cx="1059.7" cy="149.5" r="1.7"/><circle cx="1064.3" cy="145.5" r="1.7"/><circle cx="1069.0" cy="148.9" r="1.7"/><circle cx="1073.6" cy="150.2" r="1.7"/><circle cx="1078.2" cy="142.2" r="1.7"/><circle cx="1082.9" cy="146.9" r="1.7"/><circle cx="1087.5" cy="142.8" r="1.7"/><circle cx="1092.2" cy="142.2" r="1.7"/><circle cx="1096.9" cy="131.5" r="1.7"/><circle cx="1101.5" cy="126.1" r="1.7"/><circle cx="1106.2" cy="117.5" r="1.7"/><circle cx="1110.8" cy="129.5" r="1.7"/><circle cx="1115.5" cy="136.2" r="1.7"/><circle cx="1120.1" cy="111.4" r="1.7"/><circle cx="1124.8" cy="122.8" r="1.7"/><circle cx="1129.4" cy="119.5" r="1.7"/><circle cx="1134.0" cy="122.8" r="1.7"/><circle cx="1138.7" cy="120.8" r="1.7"/><circle cx="1143.4" cy="100.1" r="1.7"/><circle cx="1148.0" cy="88.7" r="1.7"/><circle cx="1152.7" cy="74.7" r="1.7"/><circle cx="1157.3" cy="82.1" r="1.7"/><circle cx="1162.0" cy="88.7" r="1.7"/><circle cx="1166.6" cy="78.7" r="1.7"/><circle cx="1171.2" cy="91.4" r="1.7"/><circle cx="1175.9" cy="90.7" r="1.7"/><circle cx="1180.5" cy="86.1" r="1.7"/><circle cx="1185.2" cy="90.7" r="1.7"/><circle cx="1189.9" cy="95.4" r="1.7"/><circle cx="1194.5" cy="104.1" r="1.7"/><circle cx="1199.2" cy="107.4" r="1.7"/><circle cx="1203.8" cy="105.4" r="1.7"/><circle cx="1208.5" cy="114.1" r="1.7"/><circle cx="1213.1" cy="110.8" r="1.7"/><circle cx="1217.8" cy="112.1" r="1.7"/><circle cx="1222.4" cy="115.5" r="1.7"/><circle cx="1227.1" cy="116.8" r="1.7"/><circle cx="1231.7" cy="123.5" r="1.7"/><circle cx="1236.4" cy="117.5" r="1.7"/><circle cx="1241.0" cy="117.5" r="1.7"/><circle cx="1245.7" cy="126.8" r="1.7"/><circle cx="1250.3" cy="128.1" r="1.7"/><circle cx="1255.0" cy="126.1" r="1.7"/><circle cx="1259.6" cy="126.8" r="1.7"/><circle cx="1264.2" cy="128.8" r="1.7"/><circle cx="1268.9" cy="138.8" r="1.7"/><circle cx="1273.6" cy="138.2" r="1.7"/><circle cx="1278.2" cy="132.2" r="1.7"/><circle cx="1282.9" cy="133.5" r="1.7"/><circle cx="1287.5" cy="136.8" r="1.7"/></g>
<rect x="1048.1" y="60.5" width="251.5" height="150.6" fill="none" stroke="#222" stroke-width="0.8"/>
<line x1="1044.5" y1="204.30" x2="1048.1" y2="204.30" stroke="#000" stroke-width="0.85"/>
<text x="1040.90" y="207.50" font-size="9.20" text-anchor="end" fill="#000">0</text>
<line x1="1044.5" y1="170.90" x2="1048.1" y2="170.90" stroke="#000" stroke-width="0.85"/>
<text x="1040.90" y="174.10" font-size="9.20" text-anchor="end" fill="#000">5</text>
<line x1="1044.5" y1="137.50" x2="1048.1" y2="137.50" stroke="#000" stroke-width="0.85"/>
<text x="1040.90" y="140.70" font-size="9.20" text-anchor="end" fill="#000" textLength="10.94" lengthAdjust="spacingAndGlyphs">10</text>
<line x1="1044.5" y1="104.10" x2="1048.1" y2="104.10" stroke="#000" stroke-width="0.85"/>
<text x="1040.90" y="107.30" font-size="9.20" text-anchor="end" fill="#000" textLength="10.94" lengthAdjust="spacingAndGlyphs">15</text>
<line x1="1044.5" y1="70.70" x2="1048.1" y2="70.70" stroke="#000" stroke-width="0.85"/>
<text x="1040.90" y="73.90" font-size="9.20" text-anchor="end" fill="#000" textLength="10.94" lengthAdjust="spacingAndGlyphs">20</text>
<line x1="1092.20" y1="211.1" x2="1092.20" y2="214.7" stroke="#000" stroke-width="0.85"/>
<text x="1092.20" y="224.30" font-size="9.20" text-anchor="middle" fill="#000" textLength="21.89" lengthAdjust="spacingAndGlyphs">4660</text>
<line x1="1138.70" y1="211.1" x2="1138.70" y2="214.7" stroke="#000" stroke-width="0.85"/>
<text x="1138.70" y="224.30" font-size="9.20" text-anchor="middle" fill="#000" textLength="21.89" lengthAdjust="spacingAndGlyphs">4680</text>
<line x1="1185.20" y1="211.1" x2="1185.20" y2="214.7" stroke="#000" stroke-width="0.85"/>
<text x="1185.20" y="224.30" font-size="9.20" text-anchor="middle" fill="#000" textLength="21.89" lengthAdjust="spacingAndGlyphs">4700</text>
<line x1="1231.70" y1="211.1" x2="1231.70" y2="214.7" stroke="#000" stroke-width="0.85"/>
<text x="1231.70" y="224.30" font-size="9.20" text-anchor="middle" fill="#000" textLength="21.89" lengthAdjust="spacingAndGlyphs">4720</text>
<line x1="1278.20" y1="211.1" x2="1278.20" y2="214.7" stroke="#000" stroke-width="0.85"/>
<text x="1278.20" y="224.30" font-size="9.20" text-anchor="middle" fill="#000" textLength="21.89" lengthAdjust="spacingAndGlyphs">4740</text>
<text x="1049.40" y="71.30" font-size="9.20" text-anchor="start" fill="#000">e</text>
<text x="1054.90" y="67.60" font-size="6.42" text-anchor="start" fill="#000" textLength="12.66" lengthAdjust="spacingAndGlyphs">−17</text>
<text x="1066.40" y="71.30" font-size="9.20" text-anchor="start" fill="#000" textLength="10.56" lengthAdjust="spacingAndGlyphs">x2</text>
<text x="1077.20" y="71.30" font-size="9.20" text-anchor="start" fill="#000" font-style="italic">Å</text>
</g>
<g id="spectrum">
<clipPath id="cSp"><rect x="101.8" y="347.9" width="1197.8" height="83.3"/></clipPath>
<g clip-path="url(#cSp)">
<rect x="189.5" y="347.9" width="59.1" height="83.3" fill="#8a2be2" fill-opacity="0.5"/>
<rect x="529.0" y="347.9" width="30.7" height="83.3" fill="#8a2be2" fill-opacity="0.5"/>
<rect x="788.6" y="347.9" width="54.3" height="83.3" fill="#bcbc12" fill-opacity="1.0"/>
<rect x="130.2" y="347.9" width="12.7" height="83.3" fill="#a0a0a0"/>
<clipPath id="h130"><rect x="130.2" y="347.9" width="12.7" height="83.3"/></clipPath>
<path d="M129.2 342.9L143.9 331.9M129.2 366.5L143.9 355.5M129.2 390.1L143.9 379.1M129.2 413.7L143.9 402.7M129.2 437.3L143.9 426.3M129.2 460.9L143.9 449.9" stroke="#222" stroke-width="0.9" clip-path="url(#h130)"/>
<rect x="130.2" y="347.9" width="12.7" height="83.3" fill="none" stroke="#222" stroke-width="0.9"/>
<rect x="1264.1" y="347.9" width="6.4" height="83.3" fill="#a0a0a0"/>
<clipPath id="h1264"><rect x="1264.1" y="347.9" width="6.4" height="83.3"/></clipPath>
<path d="M1263.1 342.9L1271.5 336.6M1263.1 366.5L1271.5 360.2M1263.1 390.1L1271.5 383.8M1263.1 413.7L1271.5 407.4M1263.1 437.3L1271.5 431.0M1263.1 460.9L1271.5 454.6" stroke="#222" stroke-width="0.9" clip-path="url(#h1264)"/>
<rect x="1264.1" y="347.9" width="6.4" height="83.3" fill="none" stroke="#222" stroke-width="0.9"/>
<line x1="147.6" y1="347.9" x2="147.6" y2="431.2" stroke="#555" stroke-width="1.1" stroke-dasharray="4.2 2.2"/>
<line x1="155.9" y1="347.9" x2="155.9" y2="431.2" stroke="#555" stroke-width="1.1" stroke-dasharray="4.2 2.2"/>
<line x1="179.7" y1="347.9" x2="179.7" y2="431.2" stroke="#555" stroke-width="1.1" stroke-dasharray="4.2 2.2"/>
<line x1="216.1" y1="347.9" x2="216.1" y2="431.2" stroke="#555" stroke-width="1.1" stroke-dasharray="4.2 2.2"/>
<line x1="276.2" y1="347.9" x2="276.2" y2="431.2" stroke="#555" stroke-width="1.1" stroke-dasharray="4.2 2.2"/>
<line x1="283.2" y1="347.9" x2="283.2" y2="431.2" stroke="#555" stroke-width="1.1" stroke-dasharray="4.2 2.2"/>
<line x1="332.0" y1="347.9" x2="332.0" y2="431.2" stroke="#555" stroke-width="1.1" stroke-dasharray="4.2 2.2"/>
<line x1="549.9" y1="347.9" x2="549.9" y2="431.2" stroke="#555" stroke-width="1.1" stroke-dasharray="4.2 2.2"/>
<line x1="845.9" y1="347.9" x2="845.9" y2="431.2" stroke="#555" stroke-width="1.1" stroke-dasharray="4.2 2.2"/>
<line x1="815.2" y1="347.9" x2="815.2" y2="431.2" stroke="#000" stroke-width="0.9" stroke-dasharray="2.4 1.4"/>
<polyline points="101.6,413.8 102.7,413.6 103.9,417.8 105.1,423.5 106.3,423.7 107.5,422.0 108.6,419.4 109.8,419.4 111.0,417.6 112.2,417.7 113.3,405.4 114.5,413.8 115.7,420.6 116.9,417.5 118.1,418.4 119.2,418.0 120.4,419.8 121.6,418.6 122.8,416.4 124.0,415.0 125.1,413.0 126.3,412.1 127.5,409.2 128.7,414.9 129.9,423.9 131.0,416.9 132.2,411.5 133.4,413.1 134.6,414.3 135.8,407.6 136.9,415.5 138.1,415.3 139.3,408.9 140.5,412.2 141.7,409.1 142.8,401.8 144.0,408.9 145.2,411.8 146.4,409.3 147.6,404.1 148.7,403.4 149.9,401.6 151.1,404.3 152.3,408.0 153.5,405.0 154.6,404.4 155.8,412.2 157.0,410.7 158.2,409.1 159.4,408.8 160.5,408.1 161.7,410.0 162.9,413.3 164.1,411.4 165.3,412.9 166.4,409.2 167.6,405.2 168.8,403.1 170.0,399.5 171.2,400.9 172.3,397.5 173.5,402.6 174.7,405.7 175.9,407.7 177.1,407.5 178.2,408.3 179.4,411.6 180.6,406.7 181.8,398.9 183.0,390.3 184.1,386.8 185.3,389.4 186.5,394.3 187.7,398.8 188.9,394.6 190.0,391.5 191.2,386.2 192.4,379.0 193.6,380.5 194.8,382.8 195.9,377.2 197.1,371.4 198.3,367.6 199.5,368.1 200.7,367.9 201.8,374.5 203.0,382.7 204.2,373.8 205.4,359.5 206.6,344.5 207.7,336.3 208.9,325.1 210.1,313.8 211.3,309.1 212.5,304.5 213.6,300.2 214.8,298.7 216.0,293.1 217.2,294.3 218.4,299.0 219.5,302.9 220.7,306.8 221.9,311.4 223.1,316.5 224.3,325.6 225.4,333.0 226.6,339.2 227.8,347.0 229.0,350.8 230.2,352.5 231.3,353.2 232.5,355.7 233.7,357.5 234.9,357.6 236.1,358.7 237.2,363.4 238.4,368.3 239.6,369.7 240.8,369.5 242.0,373.1 243.1,373.2 244.3,372.6 245.5,373.5 246.7,374.9 247.9,383.5 249.0,380.0 250.2,376.6 251.4,372.9 252.6,377.6 253.8,383.9 254.9,391.1 256.1,385.5 257.3,379.7 258.5,375.3 259.7,375.7 260.8,380.2 262.0,383.8 263.2,386.3 264.4,387.9 265.6,388.8 266.7,391.2 267.9,391.8 269.1,390.0 270.3,392.9 271.5,391.1 272.6,389.4 273.8,390.7 275.0,392.8 276.2,395.2 277.4,396.0 278.5,398.0 279.7,398.5 280.9,392.7 282.1,398.0 283.3,402.3 284.4,403.5 285.6,403.1 286.8,402.4 288.0,404.0 289.2,403.1 290.3,403.2 291.5,406.3 292.7,406.9 293.9,407.3 295.1,408.2 296.2,408.5 297.4,407.4 298.6,402.6 299.8,402.0 301.0,403.8 302.1,405.4 303.3,409.8 304.5,405.8 305.7,405.3 306.9,401.2 308.0,405.9 309.2,407.5 310.4,409.0 311.6,412.0 312.8,411.2 313.9,410.1 315.1,410.0 316.3,409.6 317.5,409.1 318.7,410.3 319.8,412.2 321.0,410.7 322.2,413.4 323.4,410.4 324.6,409.9 325.7,408.2 326.9,407.0 328.1,407.2 329.3,406.7 330.5,408.2 331.6,408.0 332.8,406.6 334.0,408.2 335.2,408.7 336.4,409.4 337.5,407.7 338.7,408.5 339.9,408.3 341.1,410.8 342.3,410.9 343.4,412.5 344.6,411.8 345.8,411.9 347.0,414.7 348.1,413.5 349.3,414.0 350.5,414.3 351.7,415.1 352.9,411.5 354.0,412.5 355.2,412.5 356.4,410.9 357.6,410.4 358.8,408.9 359.9,411.2 361.1,408.8 362.3,408.1 363.5,407.9 364.7,409.8 365.8,410.9 367.0,409.7 368.2,411.2 369.4,411.8 370.6,410.6 371.7,412.0 372.9,413.7 374.1,411.4 375.3,412.6 376.5,409.8 377.6,410.6 378.8,411.8 380.0,411.4 381.2,410.8 382.4,411.8 383.5,410.7 384.7,412.3 385.9,411.3 387.1,411.0 388.3,410.9 389.4,412.9 390.6,411.1 391.8,413.7 393.0,412.6 394.2,413.7 395.3,411.2 396.5,414.1 397.7,413.4 398.9,414.2 400.1,414.2 401.2,414.6 402.4,413.6 403.6,411.9 404.8,413.5 406.0,413.0 407.1,412.6 408.3,413.9 409.5,415.0 410.7,414.4 411.9,413.8 413.0,418.7 414.2,418.6 415.4,416.7 416.6,416.7 417.8,417.3 418.9,416.2 420.1,416.6 421.3,417.8 422.5,418.1 423.7,417.0 424.8,415.2 426.0,416.5 427.2,415.4 428.4,413.7 429.6,414.9 430.7,415.6 431.9,418.8 433.1,416.9 434.3,419.4 435.5,416.3 436.6,417.0 437.8,417.9 439.0,415.2 440.2,416.1 441.4,418.1 442.5,416.6 443.7,415.4 444.9,416.1 446.1,414.8 447.3,414.8 448.4,415.0 449.6,415.5 450.8,414.6 452.0,415.4 453.2,415.7 454.3,418.4 455.5,415.5 456.7,415.0 457.9,416.6 459.1,416.7 460.2,414.2 461.4,417.9 462.6,415.6 463.8,413.5 465.0,417.2 466.1,416.1 467.3,415.5 468.5,418.1 469.7,418.0 470.9,417.8 472.0,419.4 473.2,418.3 474.4,417.6 475.6,416.8 476.8,417.4 477.9,417.3 479.1,417.8 480.3,417.2 481.5,416.0 482.7,416.9 483.8,417.9 485.0,417.9 486.2,414.4 487.4,416.0 488.6,416.5 489.7,419.6 490.9,416.2 492.1,416.1 493.3,414.8 494.5,415.9 495.6,416.2 496.8,415.4 498.0,417.8 499.2,414.6 500.4,415.3 501.5,416.5 502.7,414.6 503.9,414.3 505.1,417.7 506.3,417.2 507.4,416.3 508.6,416.6 509.8,417.4 511.0,418.1 512.2,415.1 513.3,416.2 514.5,418.5 515.7,418.7 516.9,415.7 518.1,416.4 519.2,415.6 520.4,416.7 521.6,418.5 522.8,417.4 524.0,419.9 525.1,418.5 526.3,417.9 527.5,417.4 528.7,418.8 529.9,417.7 531.0,416.2 532.2,415.3 533.4,414.1 534.6,414.0 535.8,414.4 536.9,413.1 538.1,413.8 539.3,414.5 540.5,414.2 541.7,413.4 542.8,413.2 544.0,412.7 545.2,412.7 546.4,412.3 547.6,412.4 548.7,413.3 549.9,411.4 551.1,410.8 552.3,411.6 553.5,412.4 554.6,411.8 555.8,413.4 557.0,414.5 558.2,413.3 559.4,415.7 560.5,415.4 561.7,417.8 562.9,419.2 564.1,417.5 565.3,414.6 566.4,416.5 567.6,417.3 568.8,416.6 570.0,415.1 571.2,415.1 572.3,415.6 573.5,414.4 574.7,415.3 575.9,416.1 577.1,415.6 578.2,414.7 579.4,415.5 580.6,415.6 581.8,417.8 582.9,417.0 584.1,416.4 585.3,417.5 586.5,416.5 587.7,417.0 588.8,416.9 590.0,418.1 591.2,415.9 592.4,417.2 593.6,418.6 594.7,418.4 595.9,416.2 597.1,418.8 598.3,417.7 599.5,417.6 600.6,418.5 601.8,419.5 603.0,418.3 604.2,418.2 605.4,417.5 606.5,417.9 607.7,418.6 608.9,418.1 610.1,418.5 611.3,418.9 612.4,419.1 613.6,419.5 614.8,418.8 616.0,420.5 617.2,420.2 618.3,419.8 619.5,421.1 620.7,420.3 621.9,421.8 623.1,420.7 624.2,419.7 625.4,419.8 626.6,420.4 627.8,420.6 629.0,421.7 630.1,419.0 631.3,420.1 632.5,419.5 633.7,421.2 634.9,420.5 636.0,421.9 637.2,419.6 638.4,419.4 639.6,421.8 640.8,420.2 641.9,419.6 643.1,421.5 644.3,421.5 645.5,420.8 646.7,420.3 647.8,420.9 649.0,419.6 650.2,419.3 651.4,418.9 652.6,418.8 653.7,418.1 654.9,418.6 656.1,420.9 657.3,420.3 658.5,421.0 659.6,421.2 660.8,420.5 662.0,420.6 663.2,420.3 664.4,422.3 665.5,422.0 666.7,420.9 667.9,420.9 669.1,421.0 670.3,420.7 671.4,421.2 672.6,419.8 673.8,420.1 675.0,420.4 676.2,420.8 677.3,420.3 678.5,422.4 679.7,420.9 680.9,420.0 682.1,421.3 683.2,419.7 684.4,419.8 685.6,421.0 686.8,420.0 688.0,420.0 689.1,419.3 690.3,419.1 691.5,419.7 692.7,420.3 693.9,419.7 695.0,419.6 696.2,418.8 697.4,419.2 698.6,420.0 699.8,420.5 700.9,419.6 702.1,419.9 703.3,420.1 704.5,419.2 705.7,419.4 706.8,418.9 708.0,418.4 709.2,419.2 710.4,416.7 711.6,419.0 712.7,417.7 713.9,418.4 715.1,417.5 716.3,421.2 717.5,420.5 718.6,420.3 719.8,420.6 721.0,419.8 722.2,421.2 723.4,420.0 724.5,420.2 725.7,419.7 726.9,419.7 728.1,420.0 729.3,419.0 730.4,420.4 731.6,418.7 732.8,420.9 734.0,420.1 735.2,418.7 736.3,421.0 737.5,421.1 738.7,420.4 739.9,421.1 741.1,421.5 742.2,420.3 743.4,419.8 744.6,419.4 745.8,420.4 747.0,417.9 748.1,417.8 749.3,419.2 750.5,418.9 751.7,419.4 752.9,417.7 754.0,419.5 755.2,418.2 756.4,419.1 757.6,419.2 758.8,417.9 759.9,417.3 761.1,418.4 762.3,418.9 763.5,417.5 764.7,418.1 765.8,417.8 767.0,416.6 768.2,416.9 769.4,418.2 770.6,415.7 771.7,417.5 772.9,416.6 774.1,417.6 775.3,416.9 776.5,418.1 777.6,414.9 778.8,415.0 780.0,417.0 781.2,418.1 782.4,419.0 783.5,416.6 784.7,417.1 785.9,415.8 787.1,415.1 788.3,414.0 789.4,414.0 790.6,412.3 791.8,412.9 793.0,411.0 794.2,409.6 795.3,408.0 796.5,407.3 797.7,406.2 798.9,403.4 800.1,404.0 801.2,404.1 802.4,405.0 803.6,404.3 804.8,403.9 806.0,404.3 807.1,402.4 808.3,397.5 809.5,392.4 810.7,391.1 811.9,393.3 813.0,390.6 814.2,393.4 815.4,395.1 816.6,391.5 817.8,395.8 818.9,396.4 820.1,397.4 821.3,399.1 822.5,400.0 823.6,401.1 824.8,401.2 826.0,402.0 827.2,401.9 828.4,404.8 829.5,404.3 830.7,403.8 831.9,405.0 833.1,405.6 834.3,405.0 835.4,406.9 836.6,406.4 837.8,406.5 839.0,407.2 840.2,407.5 841.3,408.5 842.5,410.2 843.7,409.5 844.9,409.5 846.1,410.8 847.2,410.8 848.4,410.4 849.6,412.0 850.8,410.9 852.0,410.1 853.1,412.0 854.3,410.8 855.5,410.5 856.7,408.4 857.9,408.6 859.0,408.3 860.2,410.9 861.4,411.6 862.6,412.3 863.8,413.9 864.9,411.2 866.1,411.8 867.3,414.3 868.5,412.5 869.7,413.5 870.8,413.3 872.0,414.0 873.2,416.6 874.4,416.4 875.6,415.9 876.7,417.8 877.9,417.6 879.1,417.2 880.3,416.5 881.5,414.9 882.6,413.9 883.8,415.1 885.0,415.3 886.2,413.7 887.4,416.2 888.5,416.5 889.7,415.7 890.9,415.9 892.1,417.5 893.3,418.0 894.4,417.0 895.6,417.3 896.8,418.9 898.0,418.2 899.2,418.6 900.3,417.9 901.5,418.5 902.7,418.6 903.9,418.9 905.1,417.8 906.2,417.6 907.4,419.1 908.6,418.0 909.8,419.2 911.0,418.4 912.1,417.7 913.3,416.9 914.5,418.4 915.7,418.0 916.9,417.7 918.0,419.0 919.2,417.7 920.4,418.5 921.6,417.7 922.8,419.2 923.9,420.1 925.1,418.5 926.3,418.5 927.5,419.4 928.7,418.3 929.8,419.5 931.0,419.8 932.2,418.9 933.4,420.6 934.6,419.8 935.7,419.2 936.9,418.4 938.1,419.3 939.3,418.8 940.5,419.6 941.6,418.8 942.8,417.6 944.0,419.6 945.2,416.9 946.4,419.5 947.5,418.9 948.7,418.8 949.9,418.1 951.1,420.2 952.3,421.0 953.4,418.7 954.6,418.7 955.8,418.9 957.0,417.3 958.2,419.4 959.3,419.5 960.5,419.0 961.7,419.5 962.9,418.5 964.1,421.1 965.2,420.4 966.4,423.1 967.6,419.4 968.8,420.4 970.0,419.3 971.1,418.2 972.3,420.0 973.5,420.2 974.7,420.4 975.9,420.6 977.0,420.4 978.2,419.3 979.4,419.8 980.6,419.7 981.8,419.9 982.9,419.0 984.1,419.3 985.3,420.0 986.5,419.4 987.7,420.2 988.8,421.1 990.0,418.9 991.2,419.9 992.4,421.2 993.6,419.5 994.7,420.2 995.9,421.5 997.1,419.5 998.3,420.2 999.5,419.8 1000.6,420.2 1001.8,420.4 1003.0,421.2 1004.2,419.5 1005.4,420.1 1006.5,420.2 1007.7,419.8 1008.9,419.9 1010.1,419.4 1011.3,420.0 1012.4,419.8 1013.6,421.1 1014.8,419.9 1016.0,419.2 1017.2,418.7 1018.3,419.8 1019.5,419.6 1020.7,418.5 1021.9,419.6 1023.1,418.9 1024.2,418.3 1025.4,419.5 1026.6,419.1 1027.8,420.6 1029.0,420.4 1030.1,420.9 1031.3,421.2 1032.5,420.6 1033.7,419.6 1034.9,421.3 1036.0,421.1 1037.2,420.2 1038.4,421.0 1039.6,419.8 1040.8,419.5 1041.9,419.7 1043.1,418.8 1044.3,419.8 1045.5,418.0 1046.7,419.7 1047.8,419.4 1049.0,419.5 1050.2,419.9 1051.4,419.9 1052.6,421.1 1053.7,422.1 1054.9,422.0 1056.1,421.5 1057.3,422.7 1058.4,422.6 1059.6,422.2 1060.8,423.0 1062.0,424.1 1063.2,421.9 1064.3,421.7 1065.5,423.9 1066.7,422.3 1067.9,421.6 1069.1,420.8 1070.2,421.2 1071.4,422.0 1072.6,422.7 1073.8,422.2 1075.0,421.9 1076.1,423.4 1077.3,423.6 1078.5,423.0 1079.7,424.1 1080.9,422.9 1082.0,422.9 1083.2,422.2 1084.4,422.8 1085.6,422.8 1086.8,422.4 1087.9,422.0 1089.1,422.3 1090.3,421.9 1091.5,421.5 1092.7,421.4 1093.8,421.2 1095.0,422.9 1096.2,422.8 1097.4,424.2 1098.6,421.6 1099.7,423.3 1100.9,423.0 1102.1,422.8 1103.3,424.1 1104.5,423.0 1105.6,423.4 1106.8,424.6 1108.0,423.4 1109.2,422.9 1110.4,424.9 1111.5,423.3 1112.7,423.7 1113.9,423.6 1115.1,423.4 1116.3,422.8 1117.4,423.6 1118.6,422.8 1119.8,423.5 1121.0,422.6 1122.2,423.5 1123.3,422.9 1124.5,421.6 1125.7,422.4 1126.9,422.8 1128.1,423.5 1129.2,423.3 1130.4,422.8 1131.6,422.4 1132.8,422.8 1134.0,422.7 1135.1,423.2 1136.3,422.3 1137.5,423.5 1138.7,423.6 1139.9,422.8 1141.0,423.4 1142.2,423.6 1143.4,423.9 1144.6,423.7 1145.8,423.1 1146.9,423.3 1148.1,424.3 1149.3,423.2 1150.5,423.4 1151.7,424.1 1152.8,423.0 1154.0,423.7 1155.2,423.7 1156.4,423.0 1157.6,422.7 1158.7,423.9 1159.9,423.2 1161.1,424.0 1162.3,422.0 1163.5,423.7 1164.6,422.6 1165.8,423.7 1167.0,422.8 1168.2,421.8 1169.4,424.8 1170.5,423.4 1171.7,422.8 1172.9,423.3 1174.1,424.1 1175.3,422.8 1176.4,424.5 1177.6,426.0 1178.8,424.6 1180.0,426.1 1181.2,424.1 1182.3,425.1 1183.5,424.5 1184.7,423.7 1185.9,424.3 1187.1,425.1 1188.2,425.2 1189.4,423.2 1190.6,423.4 1191.8,424.3 1193.0,423.2 1194.1,423.3 1195.3,423.1 1196.5,424.9 1197.7,423.6 1198.9,422.7 1200.0,422.7 1201.2,422.6 1202.4,424.9 1203.6,423.9 1204.8,424.3 1205.9,423.7 1207.1,425.2 1208.3,423.0 1209.5,422.2 1210.7,422.4 1211.8,424.0 1213.0,423.7 1214.2,425.7 1215.4,425.3 1216.6,425.5 1217.7,424.8 1218.9,425.1 1220.1,425.4 1221.3,423.5 1222.5,423.7 1223.6,424.2 1224.8,423.7 1226.0,423.1 1227.2,424.3 1228.4,423.7 1229.5,423.2 1230.7,423.2 1231.9,423.6 1233.1,424.6 1234.3,422.4 1235.4,422.9 1236.6,423.0 1237.8,423.1 1239.0,422.6 1240.2,422.9 1241.3,423.6 1242.5,423.8 1243.7,424.0 1244.9,424.4 1246.1,425.1 1247.2,423.9 1248.4,425.0 1249.6,423.7 1250.8,424.7 1252.0,423.8 1253.1,423.1 1254.3,424.6 1255.5,426.9 1256.7,427.0 1257.9,426.4 1259.0,427.0 1260.2,425.8 1261.4,425.6 1262.6,427.1 1263.8,427.9 1264.9,427.7 1266.1,427.0 1267.3,426.2 1268.5,425.9 1269.7,426.2 1270.8,425.7 1272.0,425.1 1273.2,423.9 1274.4,422.6 1275.6,423.5 1276.7,423.7 1277.9,424.6 1279.1,425.9 1280.3,425.6 1281.5,425.5 1282.6,425.4 1283.8,422.7 1285.0,424.3 1286.2,423.8 1287.4,425.8 1288.5,425.2 1289.7,425.2 1290.9,425.2 1292.1,425.2 1293.2,425.2 1294.4,425.2 1295.6,425.2 1296.8,425.2 1298.0,425.2 1299.1,425.2" fill="none" stroke="#0000ff" stroke-width="1.3" stroke-linejoin="round"/>
<path d="M101.6 430.6L101.6 425.0L110.4 424.5L122.2 424.3L134.0 424.7L145.8 425.0L169.4 425.2L198.9 425.6L228.4 425.8L287.4 426.6L346.4 427.5L405.4 427.9L523.4 428.3L700.3 428.7L995.3 429.0L1299.7 429.2L1299.7 430.6Z" fill="#808080" fill-opacity="0.72"/>
<rect x="101.8" y="430.4" width="1197.8" height="1.6" fill="#808080" fill-opacity="0.55"/>
</g>
<rect x="101.8" y="347.9" width="1197.8" height="83.3" fill="none" stroke="#000" stroke-width="0.85"/>
<line x1="110.40" y1="431.2" x2="110.40" y2="435.0" stroke="#000" stroke-width="0.85"/>
<text x="110.40" y="446.50" font-size="10.43" text-anchor="middle" fill="#000" textLength="24.81" lengthAdjust="spacingAndGlyphs">3500</text>
<line x1="169.40" y1="431.2" x2="169.40" y2="435.0" stroke="#000" stroke-width="0.85"/>
<text x="169.40" y="446.50" font-size="10.43" text-anchor="middle" fill="#000" textLength="24.81" lengthAdjust="spacingAndGlyphs">3600</text>
<line x1="228.39" y1="431.2" x2="228.39" y2="435.0" stroke="#000" stroke-width="0.85"/>
<text x="228.39" y="446.50" font-size="10.43" text-anchor="middle" fill="#000" textLength="24.81" lengthAdjust="spacingAndGlyphs">3700</text>
<line x1="287.38" y1="431.2" x2="287.38" y2="435.0" stroke="#000" stroke-width="0.85"/>
<text x="287.38" y="446.50" font-size="10.43" text-anchor="middle" fill="#000" textLength="24.81" lengthAdjust="spacingAndGlyphs">3800</text>
<line x1="346.38" y1="431.2" x2="346.38" y2="435.0" stroke="#000" stroke-width="0.85"/>
<text x="346.38" y="446.50" font-size="10.43" text-anchor="middle" fill="#000" textLength="24.81" lengthAdjust="spacingAndGlyphs">3900</text>
<line x1="405.38" y1="431.2" x2="405.38" y2="435.0" stroke="#000" stroke-width="0.85"/>
<text x="405.38" y="446.50" font-size="10.43" text-anchor="middle" fill="#000" textLength="24.81" lengthAdjust="spacingAndGlyphs">4000</text>
<line x1="464.37" y1="431.2" x2="464.37" y2="435.0" stroke="#000" stroke-width="0.85"/>
<text x="464.37" y="446.50" font-size="10.43" text-anchor="middle" fill="#000" textLength="24.81" lengthAdjust="spacingAndGlyphs">4100</text>
<line x1="523.37" y1="431.2" x2="523.37" y2="435.0" stroke="#000" stroke-width="0.85"/>
<text x="523.37" y="446.50" font-size="10.43" text-anchor="middle" fill="#000" textLength="24.81" lengthAdjust="spacingAndGlyphs">4200</text>
<line x1="582.36" y1="431.2" x2="582.36" y2="435.0" stroke="#000" stroke-width="0.85"/>
<text x="582.36" y="446.50" font-size="10.43" text-anchor="middle" fill="#000" textLength="24.81" lengthAdjust="spacingAndGlyphs">4300</text>
<line x1="641.35" y1="431.2" x2="641.35" y2="435.0" stroke="#000" stroke-width="0.85"/>
<text x="641.35" y="446.50" font-size="10.43" text-anchor="middle" fill="#000" textLength="24.81" lengthAdjust="spacingAndGlyphs">4400</text>
<line x1="700.35" y1="431.2" x2="700.35" y2="435.0" stroke="#000" stroke-width="0.85"/>
<text x="700.35" y="446.50" font-size="10.43" text-anchor="middle" fill="#000" textLength="24.81" lengthAdjust="spacingAndGlyphs">4500</text>
<line x1="759.34" y1="431.2" x2="759.34" y2="435.0" stroke="#000" stroke-width="0.85"/>
<text x="759.34" y="446.50" font-size="10.43" text-anchor="middle" fill="#000" textLength="24.81" lengthAdjust="spacingAndGlyphs">4600</text>
<line x1="818.34" y1="431.2" x2="818.34" y2="435.0" stroke="#000" stroke-width="0.85"/>
<text x="818.34" y="446.50" font-size="10.43" text-anchor="middle" fill="#000" textLength="24.81" lengthAdjust="spacingAndGlyphs">4700</text>
<line x1="877.33" y1="431.2" x2="877.33" y2="435.0" stroke="#000" stroke-width="0.85"/>
<text x="877.33" y="446.50" font-size="10.43" text-anchor="middle" fill="#000" textLength="24.81" lengthAdjust="spacingAndGlyphs">4800</text>
<line x1="936.33" y1="431.2" x2="936.33" y2="435.0" stroke="#000" stroke-width="0.85"/>
<text x="936.33" y="446.50" font-size="10.43" text-anchor="middle" fill="#000" textLength="24.81" lengthAdjust="spacingAndGlyphs">4900</text>
<line x1="995.32" y1="431.2" x2="995.32" y2="435.0" stroke="#000" stroke-width="0.85"/>
<text x="995.32" y="446.50" font-size="10.43" text-anchor="middle" fill="#000" textLength="24.81" lengthAdjust="spacingAndGlyphs">5000</text>
<line x1="1054.32" y1="431.2" x2="1054.32" y2="435.0" stroke="#000" stroke-width="0.85"/>
<text x="1054.32" y="446.50" font-size="10.43" text-anchor="middle" fill="#000" textLength="24.81" lengthAdjust="spacingAndGlyphs">5100</text>
<line x1="1113.32" y1="431.2" x2="1113.32" y2="435.0" stroke="#000" stroke-width="0.85"/>
<text x="1113.32" y="446.50" font-size="10.43" text-anchor="middle" fill="#000" textLength="24.81" lengthAdjust="spacingAndGlyphs">5200</text>
<line x1="1172.31" y1="431.2" x2="1172.31" y2="435.0" stroke="#000" stroke-width="0.85"/>
<text x="1172.31" y="446.50" font-size="10.43" text-anchor="middle" fill="#000" textLength="24.81" lengthAdjust="spacingAndGlyphs">5300</text>
<line x1="1231.31" y1="431.2" x2="1231.31" y2="435.0" stroke="#000" stroke-width="0.85"/>
<text x="1231.31" y="446.50" font-size="10.43" text-anchor="middle" fill="#000" textLength="24.81" lengthAdjust="spacingAndGlyphs">5400</text>
<line x1="1290.30" y1="431.2" x2="1290.30" y2="435.0" stroke="#000" stroke-width="0.85"/>
<text x="1290.30" y="446.50" font-size="10.43" text-anchor="middle" fill="#000" textLength="24.81" lengthAdjust="spacingAndGlyphs">5500</text>
<line x1="98.0" y1="430.60" x2="101.8" y2="430.60" stroke="#000" stroke-width="0.85"/>
<text x="94.50" y="434.40" font-size="10.43" text-anchor="end" fill="#000">0</text>
<line x1="98.0" y1="388.80" x2="101.8" y2="388.80" stroke="#000" stroke-width="0.85"/>
<text x="94.50" y="392.60" font-size="10.43" text-anchor="end" fill="#000" textLength="12.41" lengthAdjust="spacingAndGlyphs">20</text>
<text x="110.30" y="346.40" font-size="10.70" text-anchor="start" fill="#000">e</text>
<text x="116.60" y="342.20" font-size="7.49" text-anchor="start" fill="#000" textLength="14.77" lengthAdjust="spacingAndGlyphs">−17</text>
<text x="130.00" y="346.40" font-size="10.70" text-anchor="start" fill="#000" textLength="12.28" lengthAdjust="spacingAndGlyphs">x2</text>
<text x="142.30" y="346.40" font-size="10.70" text-anchor="start" fill="#000" font-style="italic">Å</text>
<g transform="translate(122.4 319.5) rotate(90)" fill="#008000" font-size="10.37"><text x="0" y="0" textLength="20.2" lengthAdjust="spacingAndGlyphs">MgII</text><text x="26.4" y="0" text-anchor="middle" font-size="12.60">{</text></g>
<g transform="translate(138.1 319.7) rotate(90)" fill="#ffa500" font-size="10.37"><text x="0" y="0" textLength="13.9" lengthAdjust="spacingAndGlyphs">NV</text><text x="26.2" y="0" text-anchor="middle" font-size="12.60">{</text></g>
<g transform="translate(216.7 323.1) rotate(90)" fill="#8a2be2" fill-opacity="0.75" font-size="10.37"><text x="0" y="0" textLength="16.6" lengthAdjust="spacingAndGlyphs">Lyα</text><text x="22.8" y="0" text-anchor="middle" font-size="12.60">{</text></g>
<g transform="translate(260.7 319.7) rotate(90)" fill="#8a2be2" fill-opacity="0.9" font-size="10.37"><text x="0" y="0" textLength="13.9" lengthAdjust="spacingAndGlyphs">NV</text><text x="26.2" y="0" text-anchor="middle" font-size="12.60">{</text></g>
<g transform="translate(291.3 320.4) rotate(90)" fill="#800080" fill-opacity="0.9" font-size="10.37"><text x="0" y="0" textLength="16.3" lengthAdjust="spacingAndGlyphs">CIV</text><text x="25.5" y="0" text-anchor="middle" font-size="12.60">{</text></g>
<g transform="translate(302.7 325.2) rotate(90)" fill="#8a2be2" fill-opacity="0.75" font-size="10.37"><text x="0" y="0" textLength="14.6" lengthAdjust="spacingAndGlyphs">SiII</text><text x="20.7" y="0" text-anchor="middle" font-size="12.60">{</text></g>
<g transform="translate(343.5 324.2) rotate(90)" fill="#ff00ff" fill-opacity="0.7" font-size="10.37"><text x="0" y="0" textLength="12.5" lengthAdjust="spacingAndGlyphs">CII</text><text x="21.7" y="0" text-anchor="middle" font-size="12.60">{</text></g>
<g transform="translate(400.5 319.7) rotate(90)" fill="#ff0000" font-size="10.37"><text x="0" y="0" textLength="16.9" lengthAdjust="spacingAndGlyphs">OVI</text><text x="26.2" y="0" text-anchor="middle" font-size="12.60">{</text></g>
<g transform="translate(423.5 320.8) rotate(90)" fill="#800080" fill-opacity="0.9" font-size="10.37"><text x="0" y="0" textLength="19.0" lengthAdjust="spacingAndGlyphs">HeII</text><text x="25.1" y="0" text-anchor="middle" font-size="12.60">{</text></g>
<g transform="translate(542.5 321.4) rotate(90)" fill="#8a2be2" fill-opacity="0.75" font-size="10.37"><text x="0" y="0" textLength="18.3" lengthAdjust="spacingAndGlyphs">SiIV</text><text x="24.5" y="0" text-anchor="middle" font-size="12.60">{</text></g>
<g transform="translate(644.9 323.3) rotate(90)" fill="#87cefa" fill-opacity="0.55" font-size="10.37"><text x="0" y="0" textLength="13.3" lengthAdjust="spacingAndGlyphs">OII</text><text x="22.6" y="0" text-anchor="middle" font-size="12.60">{</text></g>
<g transform="translate(659.1 320.4) rotate(90)" fill="#ffa500" fill-opacity="0.8" font-size="10.37"><text x="0" y="0" textLength="16.3" lengthAdjust="spacingAndGlyphs">CIV</text><text x="25.5" y="0" text-anchor="middle" font-size="12.60">{</text></g>
<g transform="translate(668.0 323.3) rotate(90)" fill="#87cefa" fill-opacity="0.55" font-size="10.37"><text x="0" y="0" textLength="13.3" lengthAdjust="spacingAndGlyphs">OII</text><text x="22.6" y="0" text-anchor="middle" font-size="12.60">{</text></g>
<g transform="translate(870.0 319.7) rotate(90)" fill="#ff0000" fill-opacity="0.9" font-size="10.37"><text x="0" y="0" textLength="13.9" lengthAdjust="spacingAndGlyphs">NV</text><text x="26.2" y="0" text-anchor="middle" font-size="12.60">{</text></g>
<g transform="translate(921.5 325.2) rotate(90)" fill="#ff0000" fill-opacity="0.9" font-size="10.37"><text x="0" y="0" textLength="14.6" lengthAdjust="spacingAndGlyphs">SiII</text><text x="20.7" y="0" text-anchor="middle" font-size="12.60">{</text></g>
<g transform="translate(975.9 320.8) rotate(90)" fill="#8a2be2" fill-opacity="0.7" font-size="10.37"><text x="0" y="0" textLength="19.0" lengthAdjust="spacingAndGlyphs">HeII</text><text x="25.1" y="0" text-anchor="middle" font-size="12.60">{</text></g>
<g transform="translate(1072.0 326.7) rotate(90)" fill="#87cefa" fill-opacity="0.6" font-size="10.37"><text x="0" y="0" textLength="13.0" lengthAdjust="spacingAndGlyphs">Hγ</text><text x="19.2" y="0" text-anchor="middle" font-size="12.60">{</text></g>
<g transform="translate(1099.2 326.7) rotate(90)" fill="#87cefa" fill-opacity="0.6" font-size="10.37"><text x="0" y="0" textLength="13.0" lengthAdjust="spacingAndGlyphs">Hγ</text><text x="19.2" y="0" text-anchor="middle" font-size="12.60">{</text></g>
<g transform="translate(1145.5 326.3) rotate(90)" fill="#4169e1" fill-opacity="0.9" font-size="10.37"><text x="0" y="0" textLength="13.5" lengthAdjust="spacingAndGlyphs">Hβ</text><text x="19.6" y="0" text-anchor="middle" font-size="12.60">{</text></g>
<g transform="translate(1208.3 323.6) rotate(90)" fill="#4169e1" font-size="10.37"><text x="0" y="0" textLength="16.2" lengthAdjust="spacingAndGlyphs">OIII</text><text x="22.4" y="0" text-anchor="middle" font-size="12.60">{</text></g>
<g transform="translate(1227.9 321.4) rotate(90)" fill="#ff0000" font-size="10.37"><text x="0" y="0" textLength="18.3" lengthAdjust="spacingAndGlyphs">SiIV</text><text x="24.5" y="0" text-anchor="middle" font-size="12.60">{</text></g>
<g transform="translate(1238.7 323.6) rotate(90)" fill="#4169e1" fill-opacity="0.9" font-size="10.37"><text x="0" y="0" textLength="16.2" lengthAdjust="spacingAndGlyphs">OIII</text><text x="22.4" y="0" text-anchor="middle" font-size="12.60">{</text></g>
<g transform="translate(1268.3 326.7) rotate(90)" fill="#008000" font-size="10.37"><text x="0" y="0" textLength="13.0" lengthAdjust="spacingAndGlyphs">Hγ</text><text x="19.2" y="0" text-anchor="middle" font-size="12.60">{</text></g>
<g transform="translate(403.5 278.8) rotate(90)" fill="#ffa500" fill-opacity="0.9" font-size="10.37"><text x="0" y="0" textLength="18.3" lengthAdjust="spacingAndGlyphs">SiIV</text><text x="24.5" y="0" text-anchor="middle" font-size="12.60">{</text></g>
<g transform="translate(421.5 280.7) rotate(90)" fill="#4169e1" fill-opacity="0.9" font-size="10.37"><text x="0" y="0" textLength="13.3" lengthAdjust="spacingAndGlyphs">OII</text><text x="22.6" y="0" text-anchor="middle" font-size="12.60">{</text></g>
<g transform="translate(1266.5 281.8) rotate(90)" fill="#ffa500" fill-opacity="0.8" font-size="10.37"><text x="0" y="0" textLength="15.3" lengthAdjust="spacingAndGlyphs">CIII</text><text x="21.5" y="0" text-anchor="middle" font-size="12.60">{</text></g>
<rect x="454.9" y="449.9" width="16.8" height="6.0" fill="#ff0000"/>
<text x="478.10" y="456.30" font-size="8.67" text-anchor="start" fill="#000" textLength="13.90" lengthAdjust="spacingAndGlyphs">Lyα</text>
<rect x="508.1" y="449.9" width="16.8" height="6.0" fill="#008000"/>
<text x="531.30" y="456.30" font-size="8.67" text-anchor="start" fill="#000" textLength="11.15" lengthAdjust="spacingAndGlyphs">OII</text>
<rect x="561.6" y="449.9" width="16.8" height="6.0" fill="#8a2be2"/>
<text x="584.80" y="456.30" font-size="8.67" text-anchor="start" fill="#000" textLength="13.59" lengthAdjust="spacingAndGlyphs">CIV</text>
<rect x="615.9" y="449.9" width="16.8" height="6.0" fill="#800080"/>
<text x="639.10" y="456.30" font-size="8.67" text-anchor="start" fill="#000" textLength="12.82" lengthAdjust="spacingAndGlyphs">CIII</text>
<rect x="668.3" y="449.9" width="16.8" height="6.0" fill="#ff00ff"/>
<text x="691.50" y="456.30" font-size="8.67" text-anchor="start" fill="#000" textLength="16.91" lengthAdjust="spacingAndGlyphs">MgII</text>
<rect x="723.4" y="449.9" width="16.8" height="6.0" fill="#4169e1"/>
<text x="746.60" y="456.30" font-size="8.67" text-anchor="start" fill="#000" textLength="10.88" lengthAdjust="spacingAndGlyphs">Hγ</text>
<rect x="774.2" y="449.9" width="16.8" height="6.0" fill="#ffa500"/>
<text x="797.40" y="456.30" font-size="8.67" text-anchor="start" fill="#000" textLength="15.85" lengthAdjust="spacingAndGlyphs">HeII</text>
<rect x="828.8" y="449.9" width="16.8" height="6.0" fill="#87ceeb"/>
<text x="852.00" y="456.30" font-size="8.67" text-anchor="start" fill="#000" textLength="27.03" lengthAdjust="spacingAndGlyphs">(K)CaII</text>
<rect x="894.4" y="449.9" width="16.8" height="6.0" fill="#87ceeb"/>
<text x="917.60" y="456.30" font-size="8.67" text-anchor="start" fill="#000" textLength="27.81" lengthAdjust="spacingAndGlyphs">(H)CaII</text>
</g>
<g id="panels">
<clipPath id="cP1"><rect x="70.0" y="532.6" width="148.4" height="147.5"/></clipPath>
<rect x="70.0" y="532.6" width="148.4" height="147.5" fill="#aaa" filter="url(#nzI1)"/>
<g clip-path="url(#cP1)">
<circle cx="169.5" cy="554.0" r="35" fill="#000" fill-opacity="0.6" filter="url(#blur4)"/>
<circle cx="169.5" cy="554.0" r="27.5" fill="#000" filter="url(#blur2)"/>
<circle cx="153.0" cy="572.0" r="8" fill="#000" fill-opacity="0.7" filter="url(#blur2)"/>
<circle cx="180.5" cy="566.5" r="22.5" fill="#000" filter="url(#blur2)"/>
<ellipse cx="165.0" cy="578.0" rx="17" ry="11" fill="#000" fill-opacity="0.92" filter="url(#blur2)"/>
<circle cx="180.5" cy="568.0" r="28" fill="#000" fill-opacity="0.5" filter="url(#blur4)"/>
<g fill="none" stroke="#2a2a2a" stroke-width="1.0" stroke-opacity="0.62"><circle cx="100.2" cy="587.6" r="11.9"/><circle cx="121.1" cy="575.5" r="11.9"/><circle cx="151.9" cy="550.2" r="11.9"/><circle cx="169.6" cy="568.9" r="11.9"/><circle cx="187.2" cy="584.3" r="11.9"/><circle cx="92.5" cy="609.6" r="11.9"/><circle cx="114.9" cy="604.1" r="11.9"/><circle cx="110.1" cy="627.3" r="11.9"/><circle cx="125.5" cy="643.8" r="11.9"/><circle cx="149.7" cy="637.2" r="11.9"/><circle cx="172.9" cy="632.8" r="11.9"/><circle cx="181.7" cy="610.7" r="11.9"/><circle cx="194.9" cy="626.2" r="11.9"/><circle cx="143.1" cy="660.3" r="11.9"/><circle cx="165.2" cy="657.0" r="11.9"/></g>
<circle cx="139.2" cy="598.4" r="11.4" fill="none" stroke="#0000ee" stroke-width="1.7" stroke-opacity="0.9"/>
<circle cx="163.8" cy="591.6" r="11.4" fill="none" stroke="#d41414" stroke-width="1.8" stroke-opacity="0.9"/>
<circle cx="156.3" cy="615.6" r="11.4" fill="none" stroke="#00e800" stroke-width="1.9" stroke-opacity="0.9"/>
<circle cx="132.1" cy="621.8" r="11.4" fill="none" stroke="#ffa500" stroke-width="1.0" stroke-opacity="0.9"/>
</g>
<rect x="97.1" y="559.9" width="93.6" height="93.6" fill="none" stroke="#50c8a8" stroke-width="0.9" stroke-opacity="0.4"/>
<rect x="98.9" y="561.7" width="90.0" height="90.0" fill="none" stroke="#f080a0" stroke-width="0.9" stroke-opacity="0.3"/>
<rect x="92.3" y="555.1" width="103.2" height="103.2" fill="none" stroke="#ffb0b0" stroke-width="0.9" stroke-opacity="0.3"/>
<rect x="94.9" y="557.7" width="98.0" height="98.0" fill="none" stroke="#ff0000" stroke-width="1.4" stroke-opacity="1.0"/>
<text x="142.2" y="546.0" font-size="11.6" font-weight="bold" fill="#e8141c" fill-opacity="0.8" text-anchor="middle">N</text>
<text x="79.3" y="610.3" font-size="11.6" font-weight="bold" fill="#e8141c" fill-opacity="0.8" text-anchor="middle">E</text>
<text x="144.15" y="525.70" font-size="13.82" text-anchor="middle" fill="#000" textLength="92.69" lengthAdjust="spacingAndGlyphs">Fiber Positions</text>
<line x1="78.53" y1="680.1" x2="78.53" y2="683.9" stroke="#000" stroke-width="0.85"/>
<text x="77.33" y="695.80" font-size="10.49" text-anchor="middle" fill="#000" textLength="14.45" lengthAdjust="spacingAndGlyphs">−4</text>
<line x1="66.2" y1="672.02" x2="70.0" y2="672.02" stroke="#000" stroke-width="0.85"/>
<text x="62.60" y="675.72" font-size="10.49" text-anchor="end" fill="#000" textLength="14.45" lengthAdjust="spacingAndGlyphs">−4</text>
<line x1="111.19" y1="680.1" x2="111.19" y2="683.9" stroke="#000" stroke-width="0.85"/>
<text x="109.99" y="695.80" font-size="10.49" text-anchor="middle" fill="#000" textLength="14.45" lengthAdjust="spacingAndGlyphs">−2</text>
<line x1="66.2" y1="639.36" x2="70.0" y2="639.36" stroke="#000" stroke-width="0.85"/>
<text x="62.60" y="643.06" font-size="10.49" text-anchor="end" fill="#000" textLength="14.45" lengthAdjust="spacingAndGlyphs">−2</text>
<line x1="143.85" y1="680.1" x2="143.85" y2="683.9" stroke="#000" stroke-width="0.85"/>
<text x="143.85" y="695.80" font-size="10.49" text-anchor="middle" fill="#000">0</text>
<line x1="66.2" y1="606.70" x2="70.0" y2="606.70" stroke="#000" stroke-width="0.85"/>
<text x="62.60" y="610.40" font-size="10.49" text-anchor="end" fill="#000">0</text>
<line x1="176.51" y1="680.1" x2="176.51" y2="683.9" stroke="#000" stroke-width="0.85"/>
<text x="176.51" y="695.80" font-size="10.49" text-anchor="middle" fill="#000">2</text>
<line x1="66.2" y1="574.04" x2="70.0" y2="574.04" stroke="#000" stroke-width="0.85"/>
<text x="62.60" y="577.74" font-size="10.49" text-anchor="end" fill="#000">2</text>
<line x1="209.17" y1="680.1" x2="209.17" y2="683.9" stroke="#000" stroke-width="0.85"/>
<text x="209.17" y="695.80" font-size="10.49" text-anchor="middle" fill="#000">4</text>
<line x1="66.2" y1="541.38" x2="70.0" y2="541.38" stroke="#000" stroke-width="0.85"/>
<text x="62.60" y="545.08" font-size="10.49" text-anchor="end" fill="#000">4</text>
<rect x="70.0" y="532.6" width="148.4" height="147.5" fill="none" stroke="#000" stroke-width="0.85"/>
<text x="143.90" y="706.30" font-size="11.50" text-anchor="middle" fill="#000" textLength="40.41" lengthAdjust="spacingAndGlyphs">arcsecs</text>
<clipPath id="cP2"><rect x="255.3" y="532.5" width="148.6" height="148.1"/></clipPath>
<linearGradient id="gLF" x1="0" y1="0" x2="1" y2="1"><stop offset="0" stop-color="#472d7b"/><stop offset="0.45" stop-color="#471466"/><stop offset="1" stop-color="#46105f"/></linearGradient>
<rect x="255.3" y="532.5" width="148.6" height="148.1" fill="url(#gLF)"/>
<g clip-path="url(#cP2)">
<ellipse cx="358" cy="570" rx="50" ry="52" fill="#3e4989" fill-opacity="0.6" filter="url(#blur4)"/>
<polygon points="348.7,530.0 332.0,551.2 333.0,567.0 335.1,579.5 342.5,591.1 355.0,595.5 367.6,593.2 375.0,587.9 379.2,572.2 382.8,556.5 378.1,546.0 368.1,533.9 367.0,530.0" transform="translate(12 2)" fill="#26828e" stroke="#26828e" stroke-width="19" stroke-linejoin="round" fill-opacity="0.9" stroke-opacity="0.9" filter="url(#blur2)"/>
<polygon points="348.7,530.0 332.0,551.2 333.0,567.0 335.1,579.5 342.5,591.1 355.0,595.5 367.6,593.2 375.0,587.9 379.2,572.2 382.8,556.5 378.1,546.0 368.1,533.9 367.0,530.0" fill="#2c728e" stroke="#2c728e" stroke-width="25" stroke-linejoin="round" filter="url(#blur2)" fill-opacity="0.75" stroke-opacity="0.75"/>
<polygon points="348.7,530.0 332.0,551.2 333.0,567.0 335.1,579.5 342.5,591.1 355.0,595.5 367.6,593.2 375.0,587.9 379.2,572.2 382.8,556.5 378.1,546.0 368.1,533.9 367.0,530.0" fill="#1f9e89" stroke="#1f9e89" stroke-width="18" stroke-linejoin="round" filter="url(#blur1)"/>
<polygon points="348.7,530.0 332.0,551.2 333.0,567.0 335.1,579.5 342.5,591.1 355.0,595.5 367.6,593.2 375.0,587.9 379.2,572.2 382.8,556.5 378.1,546.0 368.1,533.9 367.0,530.0" transform="translate(4.5 1)" fill="#35b779" stroke="#35b779" stroke-width="10" stroke-linejoin="round" filter="url(#blur1)" fill-opacity="0.9" stroke-opacity="0.9"/>
<polygon points="348.7,530.0 332.0,551.2 333.0,567.0 335.1,579.5 342.5,591.1 355.0,595.5 367.6,593.2 375.0,587.9 379.2,572.2 382.8,556.5 378.1,546.0 368.1,533.9 367.0,530.0" fill="#5ec962" stroke="#5ec962" stroke-width="11.5" stroke-linejoin="round" filter="url(#blur1)"/>
<polygon points="348.7,530.0 332.0,551.2 333.0,567.0 335.1,579.5 342.5,591.1 355.0,595.5 367.6,593.2 375.0,587.9 379.2,572.2 382.8,556.5 378.1,546.0 368.1,533.9 367.0,530.0" fill="#c8e020" stroke="#c8e020" stroke-width="5.5" stroke-linejoin="round" filter="url(#blur1)"/>
<polygon points="348.7,530.0 332.0,551.2 333.0,567.0 335.1,579.5 342.5,591.1 355.0,595.5 367.6,593.2 375.0,587.9 379.2,572.2 382.8,556.5 378.1,546.0 368.1,533.9 367.0,530.0" fill="#fde725" stroke="#fde725" stroke-width="1" stroke-linejoin="round"/>
</g>
<rect x="280.3" y="557.7" width="98.0" height="98.0" fill="none" stroke="#ff0000" stroke-width="1.4" stroke-opacity="0.85"/>
<path d="M290.1 606.7H319.5M339.1 606.7H368.5M329.3 567.5V596.9M329.3 616.5V645.9" stroke="#ff0000" stroke-width="1.2" stroke-opacity="0.9" fill="none"/>
<text x="327.7" y="546.0" font-size="11.6" font-weight="bold" fill="#e8141c" fill-opacity="0.7" text-anchor="middle">N</text>
<text x="264.8" y="610.3" font-size="11.6" font-weight="bold" fill="#e8141c" fill-opacity="0.7" text-anchor="middle">E</text>
<text x="329.60" y="525.70" font-size="13.82" text-anchor="middle" fill="#000" textLength="82.27" lengthAdjust="spacingAndGlyphs">Lineflux Map</text>
<line x1="263.98" y1="680.6" x2="263.98" y2="684.4" stroke="#000" stroke-width="0.85"/>
<text x="262.78" y="695.80" font-size="10.49" text-anchor="middle" fill="#000" textLength="14.45" lengthAdjust="spacingAndGlyphs">−4</text>
<line x1="251.5" y1="672.02" x2="255.3" y2="672.02" stroke="#000" stroke-width="0.85"/>
<text x="247.90" y="675.72" font-size="10.49" text-anchor="end" fill="#000" textLength="14.45" lengthAdjust="spacingAndGlyphs">−4</text>
<line x1="296.64" y1="680.6" x2="296.64" y2="684.4" stroke="#000" stroke-width="0.85"/>
<text x="295.44" y="695.80" font-size="10.49" text-anchor="middle" fill="#000" textLength="14.45" lengthAdjust="spacingAndGlyphs">−2</text>
<line x1="251.5" y1="639.36" x2="255.3" y2="639.36" stroke="#000" stroke-width="0.85"/>
<text x="247.90" y="643.06" font-size="10.49" text-anchor="end" fill="#000" textLength="14.45" lengthAdjust="spacingAndGlyphs">−2</text>
<line x1="329.30" y1="680.6" x2="329.30" y2="684.4" stroke="#000" stroke-width="0.85"/>
<text x="329.30" y="695.80" font-size="10.49" text-anchor="middle" fill="#000">0</text>
<line x1="251.5" y1="606.70" x2="255.3" y2="606.70" stroke="#000" stroke-width="0.85"/>
<text x="247.90" y="610.40" font-size="10.49" text-anchor="end" fill="#000">0</text>
<line x1="361.96" y1="680.6" x2="361.96" y2="684.4" stroke="#000" stroke-width="0.85"/>
<text x="361.96" y="695.80" font-size="10.49" text-anchor="middle" fill="#000">2</text>
<line x1="251.5" y1="574.04" x2="255.3" y2="574.04" stroke="#000" stroke-width="0.85"/>
<text x="247.90" y="577.74" font-size="10.49" text-anchor="end" fill="#000">2</text>
<line x1="394.62" y1="680.6" x2="394.62" y2="684.4" stroke="#000" stroke-width="0.85"/>
<text x="394.62" y="695.80" font-size="10.49" text-anchor="middle" fill="#000">4</text>
<line x1="251.5" y1="541.38" x2="255.3" y2="541.38" stroke="#000" stroke-width="0.85"/>
<text x="247.90" y="545.08" font-size="10.49" text-anchor="end" fill="#000">4</text>
<text x="328.60" y="706.60" font-size="11.50" text-anchor="middle" fill="#000" textLength="107.98" lengthAdjust="spacingAndGlyphs">s/b: 24.83 +/- 3.658</text>
<clipPath id="cP3"><rect x="440.4" y="532.6" width="148.4" height="148.0"/></clipPath>
<rect x="440.4" y="532.6" width="148.4" height="148.0" fill="#aaa" filter="url(#nzI2)"/>
<g clip-path="url(#cP3)">
<circle cx="541.0" cy="562.0" r="36" fill="#000" fill-opacity="0.55" filter="url(#blur4)"/>
<circle cx="541.0" cy="562.0" r="31.5" fill="#000" filter="url(#blur1)"/>
<circle cx="540.0" cy="562.0" r="34.1" fill="none" stroke="#d6cf2e" stroke-width="1.5"/>
</g>
<rect x="467.6" y="559.9" width="93.6" height="93.6" fill="none" stroke="#50c8a8" stroke-width="0.9" stroke-opacity="0.4"/>
<rect x="469.4" y="561.7" width="90.0" height="90.0" fill="none" stroke="#f080a0" stroke-width="0.9" stroke-opacity="0.3"/>
<rect x="462.8" y="555.1" width="103.2" height="103.2" fill="none" stroke="#ffb0b0" stroke-width="0.9" stroke-opacity="0.3"/>
<rect x="465.4" y="557.7" width="98.0" height="98.0" fill="none" stroke="#ff0000" stroke-width="1.3" stroke-opacity="1.0"/>
<path d="M475.2 606.7H504.6M524.2 606.7H553.6M514.4 567.5V596.9M514.4 616.5V645.9" stroke="#ff0000" stroke-width="1.1" stroke-opacity="1.0" fill="none"/>
<text x="512.8" y="546.0" font-size="11.6" font-weight="bold" fill="#e8141c" fill-opacity="0.8" text-anchor="middle">N</text>
<text x="449.9" y="610.3" font-size="11.6" font-weight="bold" fill="#e8141c" fill-opacity="0.8" text-anchor="middle">E</text>
<text x="514.70" y="525.70" font-size="13.82" text-anchor="middle" fill="#000" textLength="75.21" lengthAdjust="spacingAndGlyphs">HSC(26.2) r</text>
<line x1="449.08" y1="680.6" x2="449.08" y2="684.4" stroke="#000" stroke-width="0.85"/>
<text x="447.88" y="695.80" font-size="10.49" text-anchor="middle" fill="#000" textLength="14.45" lengthAdjust="spacingAndGlyphs">−4</text>
<line x1="436.6" y1="672.02" x2="440.4" y2="672.02" stroke="#000" stroke-width="0.85"/>
<text x="433.00" y="675.72" font-size="10.49" text-anchor="end" fill="#000" textLength="14.45" lengthAdjust="spacingAndGlyphs">−4</text>
<line x1="481.74" y1="680.6" x2="481.74" y2="684.4" stroke="#000" stroke-width="0.85"/>
<text x="480.54" y="695.80" font-size="10.49" text-anchor="middle" fill="#000" textLength="14.45" lengthAdjust="spacingAndGlyphs">−2</text>
<line x1="436.6" y1="639.36" x2="440.4" y2="639.36" stroke="#000" stroke-width="0.85"/>
<text x="433.00" y="643.06" font-size="10.49" text-anchor="end" fill="#000" textLength="14.45" lengthAdjust="spacingAndGlyphs">−2</text>
<line x1="514.40" y1="680.6" x2="514.40" y2="684.4" stroke="#000" stroke-width="0.85"/>
<text x="514.40" y="695.80" font-size="10.49" text-anchor="middle" fill="#000">0</text>
<line x1="436.6" y1="606.70" x2="440.4" y2="606.70" stroke="#000" stroke-width="0.85"/>
<text x="433.00" y="610.40" font-size="10.49" text-anchor="end" fill="#000">0</text>
<line x1="547.06" y1="680.6" x2="547.06" y2="684.4" stroke="#000" stroke-width="0.85"/>
<text x="547.06" y="695.80" font-size="10.49" text-anchor="middle" fill="#000">2</text>
<line x1="436.6" y1="574.04" x2="440.4" y2="574.04" stroke="#000" stroke-width="0.85"/>
<text x="433.00" y="577.74" font-size="10.49" text-anchor="end" fill="#000">2</text>
<line x1="579.72" y1="680.6" x2="579.72" y2="684.4" stroke="#000" stroke-width="0.85"/>
<text x="579.72" y="695.80" font-size="10.49" text-anchor="middle" fill="#000">4</text>
<line x1="436.6" y1="541.38" x2="440.4" y2="541.38" stroke="#000" stroke-width="0.85"/>
<text x="433.00" y="545.08" font-size="10.49" text-anchor="end" fill="#000">4</text>
<rect x="440.4" y="532.6" width="148.4" height="148.0" fill="none" stroke="#000" stroke-width="0.85"/>
<text x="513.90" y="707.00" font-size="11.50" text-anchor="middle" fill="#000" textLength="119.43" lengthAdjust="spacingAndGlyphs">m:18.2  re:2.0"  s:3.1"</text>
<text x="515.70" y="718.80" font-size="11.50" text-anchor="middle" fill="#000" textLength="106.56" lengthAdjust="spacingAndGlyphs">EWr: 4, PLAE: 0.001</text>
</g>
</svg>
</body></html>
